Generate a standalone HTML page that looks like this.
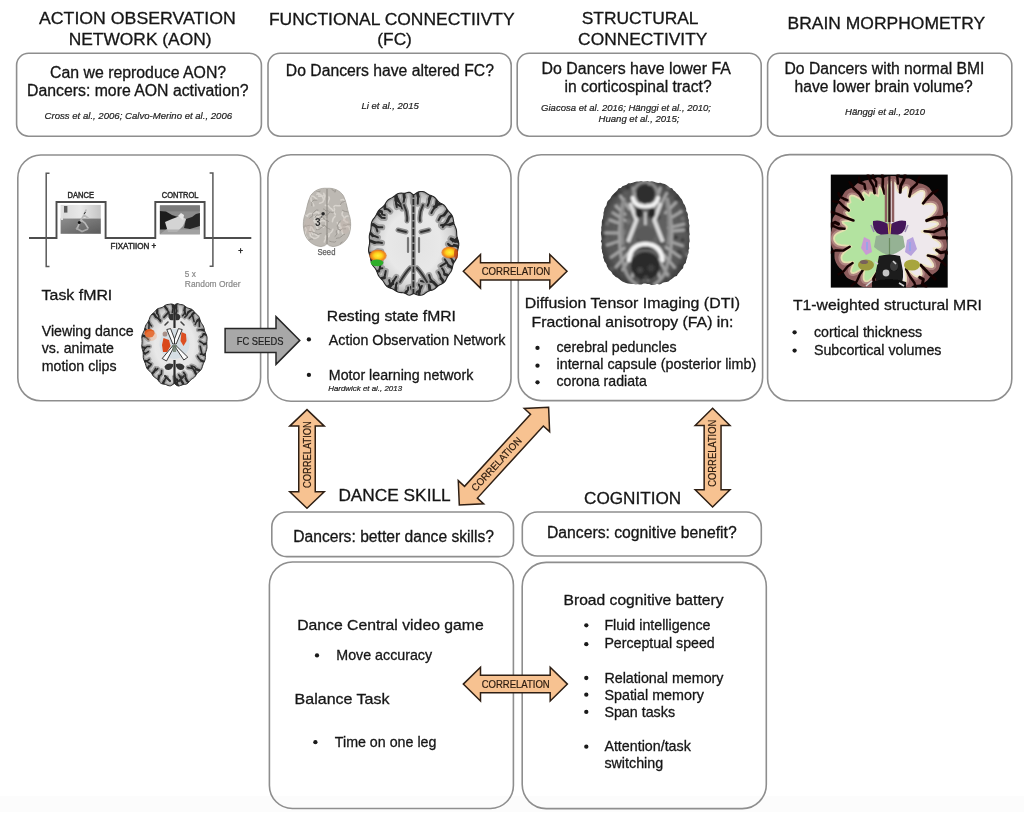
<!DOCTYPE html>
<html><head><meta charset="utf-8"><title>Dance study overview</title>
<style>
html,body{margin:0;padding:0;background:#fff;width:1024px;height:816px;overflow:hidden}
svg{display:block;will-change:transform}
text{font-family:"Liberation Sans",sans-serif}
</style></head><body>
<svg width="1024" height="816" viewBox="0 0 1024 816">
<rect x="0" y="0" width="1024" height="816" fill="#ffffff"/>
<rect x="0" y="796" width="1024" height="16" fill="#fcfcfc"/>
<defs><linearGradient id="gDanceTop" x1="0" y1="0" x2="1" y2="0"><stop offset="0" stop-color="#d8d8d8"/><stop offset="0.5" stop-color="#e8e8e8"/><stop offset="1" stop-color="#c4c4c4"/></linearGradient>
<linearGradient id="gDanceBot" x1="0" y1="0" x2="1" y2="1"><stop offset="0" stop-color="#8e8e8e"/><stop offset="1" stop-color="#5a5a5a"/></linearGradient>
<radialGradient id="gWM" cx="0.5" cy="0.5" r="0.5"><stop offset="0" stop-color="#e2e2e2"/><stop offset="0.6" stop-color="#e8e8e8"/><stop offset="0.85" stop-color="#d4d4d4"/><stop offset="1" stop-color="#b4b4b4"/></radialGradient>
<radialGradient id="gSeed" cx="0.5" cy="0.45" r="0.55"><stop offset="0" stop-color="#c9c6c1"/><stop offset="0.8" stop-color="#bcb8b2"/><stop offset="1" stop-color="#a9a59f"/></radialGradient>
<radialGradient id="gOr" cx="0.5" cy="0.5" r="0.5"><stop offset="0" stop-color="#fff23a"/><stop offset="0.45" stop-color="#ffd21e"/><stop offset="0.8" stop-color="#f08a1a"/><stop offset="1" stop-color="#e06a18" stop-opacity="0.6"/></radialGradient>
<filter id="blur04" x="-5%" y="-5%" width="110%" height="110%"><feGaussianBlur stdDeviation="0.4"/></filter>
<filter id="blur06" x="-5%" y="-5%" width="110%" height="110%"><feGaussianBlur stdDeviation="0.6"/></filter>
<filter id="blur1" x="-5%" y="-5%" width="110%" height="110%"><feGaussianBlur stdDeviation="1"/></filter>
<filter id="blur15" x="-10%" y="-10%" width="120%" height="120%"><feGaussianBlur stdDeviation="1.5"/></filter>
<radialGradient id="gDTI" cx="0.5" cy="0.5" r="0.55"><stop offset="0" stop-color="#686868"/><stop offset="0.75" stop-color="#585858"/><stop offset="1" stop-color="#2e2e2e"/></radialGradient></defs>
<g filter="url(#blur04)">
<rect x="60.6" y="204.9" width="40.2" height="13.8" fill="url(#gDanceTop)"/>
<rect x="60.6" y="218.5" width="40.2" height="15.3" fill="url(#gDanceBot)"/>
<rect x="64.0" y="206.0" width="3.4" height="6.6" fill="#5a5a5a"/>
<rect x="61.0" y="206.0" width="2.0" height="14" fill="#e0e0e0"/>
<path d="M86,210 L84,215 L81,220 L79,224 L77,229 M81,220 L85,223 L88,228 M84,215 L88,218" stroke="#b8b8b8" stroke-width="1.6" fill="none" stroke-linecap="round"/>
<path d="M76,228 L82,231.5 L88,229" stroke="#a8a8a8" stroke-width="1.8" fill="none"/>
<path d="M84,214 L85.5,212" stroke="#333" stroke-width="1"/>
<circle cx="79.3" cy="222.4" r="1.5" fill="#111"/>
<rect x="159.9" y="205.4" width="40.0" height="28.9" fill="#8c8c8c"/>
<rect x="159.9" y="205.4" width="40.0" height="6" fill="#7a7a7a"/>
<path d="M159.9,211 L166,211.5 L172,215 L178,217 L172,221 L168,228 L159.9,234.3 Z" fill="#1e1e1e"/>
<path d="M186,219 L192,217 L196,214 L199.9,213 L199.9,226 L190,229 L184,228 Z" fill="#262626"/>
<path d="M165,222 L172,219 L180,216 L186,219 L183,226 L177,232 L168,232 Z" fill="#d4d4d4"/>
<path d="M178,216 L181,213 L184,215 L183,220 Z" fill="#e6e6e6"/>
<rect x="159.9" y="229.5" width="40" height="4.8" fill="#a8a8a8" opacity="0.8"/>
</g>
<polyline points="29,238 56.5,238 56.5,202 105.6,202 105.6,238 155.3,238 155.3,202 204.6,202 204.6,238 251.3,238" fill="none" stroke="#4d4d4d" stroke-width="1.9" stroke-linejoin="miter"/>
<polyline points="49.5,173.2 46.2,173.2 46.2,266.6 49.5,266.6" fill="none" stroke="#5a5a5a" stroke-width="1.5"/>
<polyline points="209.6,173.0 212.9,173.0 212.9,266.3 209.6,266.3" fill="none" stroke="#5a5a5a" stroke-width="1.5"/>
<g filter="url(#blur04)">
<clipPath id="cpTask"><path d="M206.87,344.80 L206.97,346.43 L206.90,348.05 L206.57,349.64 L206.07,351.18 L205.62,352.69 L205.38,354.25 L205.34,355.89 L205.33,357.57 L205.15,359.21 L204.70,360.75 L204.05,362.17 L203.39,363.57 L202.84,365.04 L202.39,366.59 L201.88,368.13 L201.16,369.51 L200.19,370.64 L199.07,371.57 L197.97,372.49 L197.02,373.55 L196.20,374.77 L195.40,376.04 L194.47,377.16 L193.40,378.04 L192.26,378.77 L191.15,379.54 L190.15,380.53 L189.19,381.70 L188.20,382.84 L187.08,383.71 L185.84,384.20 L184.53,384.42 L183.23,384.60 L181.98,384.94 L180.76,385.43 L179.52,385.87 L178.24,386.03 L176.94,385.49 L175.66,384.48 L174.40,383.58 L173.15,384.26 L171.88,385.18 L170.58,385.81 L169.29,385.83 L168.03,385.51 L166.81,384.99 L165.59,384.51 L164.32,384.20 L163.02,384.01 L161.73,383.69 L160.53,383.03 L159.48,382.00 L158.54,380.79 L157.60,379.64 L156.57,378.71 L155.46,377.93 L154.34,377.13 L153.35,376.12 L152.51,374.89 L151.75,373.59 L150.92,372.39 L149.93,371.36 L148.82,370.43 L147.75,369.40 L146.89,368.16 L146.29,366.69 L145.84,365.12 L145.39,363.58 L144.81,362.13 L144.16,360.72 L143.59,359.24 L143.28,357.65 L143.21,355.98 L143.26,354.30 L143.19,352.69 L142.90,351.14 L142.44,349.61 L142.02,348.04 L141.82,346.43 L141.87,344.80 L142.02,343.18 L142.10,341.57 L142.02,339.93 L141.87,338.25 L141.87,336.58 L142.17,334.97 L142.78,333.47 L143.51,332.05 L144.16,330.63 L144.64,329.14 L145.02,327.59 L145.48,326.07 L146.13,324.68 L146.97,323.44 L147.84,322.24 L148.58,320.96 L149.15,319.50 L149.64,317.93 L150.24,316.42 L151.06,315.14 L152.08,314.12 L153.18,313.23 L154.23,312.29 L155.20,311.21 L156.15,310.09 L157.19,309.11 L158.38,308.46 L159.68,308.10 L160.99,307.83 L162.21,307.40 L163.34,306.71 L164.44,305.86 L165.59,305.10 L166.81,304.63 L168.08,304.42 L169.35,304.29 L170.60,304.00 L171.84,304.03 L173.11,304.45 L174.40,305.11 L175.70,304.23 L176.98,303.72 L178.22,303.78 L179.45,304.25 L180.71,304.50 L181.98,304.67 L183.23,305.01 L184.41,305.65 L185.52,306.51 L186.60,307.37 L187.74,308.01 L188.99,308.41 L190.30,308.72 L191.56,309.22 L192.68,310.03 L193.66,311.11 L194.59,312.26 L195.56,313.31 L196.63,314.24 L197.71,315.18 L198.65,316.32 L199.35,317.72 L199.86,319.29 L200.34,320.85 L200.93,322.27 L201.71,323.53 L202.56,324.76 L203.30,326.08 L203.84,327.55 L204.21,329.11 L204.58,330.65 L205.09,332.13 L205.77,333.56 L206.46,335.02 L206.94,336.57 L207.10,338.22 L206.99,339.90 L206.82,341.56 L206.77,343.18Z"/></clipPath><g clip-path="url(#cpTask)"><path d="M206.87,344.80 L206.97,346.43 L206.90,348.05 L206.57,349.64 L206.07,351.18 L205.62,352.69 L205.38,354.25 L205.34,355.89 L205.33,357.57 L205.15,359.21 L204.70,360.75 L204.05,362.17 L203.39,363.57 L202.84,365.04 L202.39,366.59 L201.88,368.13 L201.16,369.51 L200.19,370.64 L199.07,371.57 L197.97,372.49 L197.02,373.55 L196.20,374.77 L195.40,376.04 L194.47,377.16 L193.40,378.04 L192.26,378.77 L191.15,379.54 L190.15,380.53 L189.19,381.70 L188.20,382.84 L187.08,383.71 L185.84,384.20 L184.53,384.42 L183.23,384.60 L181.98,384.94 L180.76,385.43 L179.52,385.87 L178.24,386.03 L176.94,385.49 L175.66,384.48 L174.40,383.58 L173.15,384.26 L171.88,385.18 L170.58,385.81 L169.29,385.83 L168.03,385.51 L166.81,384.99 L165.59,384.51 L164.32,384.20 L163.02,384.01 L161.73,383.69 L160.53,383.03 L159.48,382.00 L158.54,380.79 L157.60,379.64 L156.57,378.71 L155.46,377.93 L154.34,377.13 L153.35,376.12 L152.51,374.89 L151.75,373.59 L150.92,372.39 L149.93,371.36 L148.82,370.43 L147.75,369.40 L146.89,368.16 L146.29,366.69 L145.84,365.12 L145.39,363.58 L144.81,362.13 L144.16,360.72 L143.59,359.24 L143.28,357.65 L143.21,355.98 L143.26,354.30 L143.19,352.69 L142.90,351.14 L142.44,349.61 L142.02,348.04 L141.82,346.43 L141.87,344.80 L142.02,343.18 L142.10,341.57 L142.02,339.93 L141.87,338.25 L141.87,336.58 L142.17,334.97 L142.78,333.47 L143.51,332.05 L144.16,330.63 L144.64,329.14 L145.02,327.59 L145.48,326.07 L146.13,324.68 L146.97,323.44 L147.84,322.24 L148.58,320.96 L149.15,319.50 L149.64,317.93 L150.24,316.42 L151.06,315.14 L152.08,314.12 L153.18,313.23 L154.23,312.29 L155.20,311.21 L156.15,310.09 L157.19,309.11 L158.38,308.46 L159.68,308.10 L160.99,307.83 L162.21,307.40 L163.34,306.71 L164.44,305.86 L165.59,305.10 L166.81,304.63 L168.08,304.42 L169.35,304.29 L170.60,304.00 L171.84,304.03 L173.11,304.45 L174.40,305.11 L175.70,304.23 L176.98,303.72 L178.22,303.78 L179.45,304.25 L180.71,304.50 L181.98,304.67 L183.23,305.01 L184.41,305.65 L185.52,306.51 L186.60,307.37 L187.74,308.01 L188.99,308.41 L190.30,308.72 L191.56,309.22 L192.68,310.03 L193.66,311.11 L194.59,312.26 L195.56,313.31 L196.63,314.24 L197.71,315.18 L198.65,316.32 L199.35,317.72 L199.86,319.29 L200.34,320.85 L200.93,322.27 L201.71,323.53 L202.56,324.76 L203.30,326.08 L203.84,327.55 L204.21,329.11 L204.58,330.65 L205.09,332.13 L205.77,333.56 L206.46,335.02 L206.94,336.57 L207.10,338.22 L206.99,339.90 L206.82,341.56 L206.77,343.18Z" fill="url(#gWM)"/><path d="M206.87,344.80 L206.97,346.43 L206.90,348.05 L206.57,349.64 L206.07,351.18 L205.62,352.69 L205.38,354.25 L205.34,355.89 L205.33,357.57 L205.15,359.21 L204.70,360.75 L204.05,362.17 L203.39,363.57 L202.84,365.04 L202.39,366.59 L201.88,368.13 L201.16,369.51 L200.19,370.64 L199.07,371.57 L197.97,372.49 L197.02,373.55 L196.20,374.77 L195.40,376.04 L194.47,377.16 L193.40,378.04 L192.26,378.77 L191.15,379.54 L190.15,380.53 L189.19,381.70 L188.20,382.84 L187.08,383.71 L185.84,384.20 L184.53,384.42 L183.23,384.60 L181.98,384.94 L180.76,385.43 L179.52,385.87 L178.24,386.03 L176.94,385.49 L175.66,384.48 L174.40,383.58 L173.15,384.26 L171.88,385.18 L170.58,385.81 L169.29,385.83 L168.03,385.51 L166.81,384.99 L165.59,384.51 L164.32,384.20 L163.02,384.01 L161.73,383.69 L160.53,383.03 L159.48,382.00 L158.54,380.79 L157.60,379.64 L156.57,378.71 L155.46,377.93 L154.34,377.13 L153.35,376.12 L152.51,374.89 L151.75,373.59 L150.92,372.39 L149.93,371.36 L148.82,370.43 L147.75,369.40 L146.89,368.16 L146.29,366.69 L145.84,365.12 L145.39,363.58 L144.81,362.13 L144.16,360.72 L143.59,359.24 L143.28,357.65 L143.21,355.98 L143.26,354.30 L143.19,352.69 L142.90,351.14 L142.44,349.61 L142.02,348.04 L141.82,346.43 L141.87,344.80 L142.02,343.18 L142.10,341.57 L142.02,339.93 L141.87,338.25 L141.87,336.58 L142.17,334.97 L142.78,333.47 L143.51,332.05 L144.16,330.63 L144.64,329.14 L145.02,327.59 L145.48,326.07 L146.13,324.68 L146.97,323.44 L147.84,322.24 L148.58,320.96 L149.15,319.50 L149.64,317.93 L150.24,316.42 L151.06,315.14 L152.08,314.12 L153.18,313.23 L154.23,312.29 L155.20,311.21 L156.15,310.09 L157.19,309.11 L158.38,308.46 L159.68,308.10 L160.99,307.83 L162.21,307.40 L163.34,306.71 L164.44,305.86 L165.59,305.10 L166.81,304.63 L168.08,304.42 L169.35,304.29 L170.60,304.00 L171.84,304.03 L173.11,304.45 L174.40,305.11 L175.70,304.23 L176.98,303.72 L178.22,303.78 L179.45,304.25 L180.71,304.50 L181.98,304.67 L183.23,305.01 L184.41,305.65 L185.52,306.51 L186.60,307.37 L187.74,308.01 L188.99,308.41 L190.30,308.72 L191.56,309.22 L192.68,310.03 L193.66,311.11 L194.59,312.26 L195.56,313.31 L196.63,314.24 L197.71,315.18 L198.65,316.32 L199.35,317.72 L199.86,319.29 L200.34,320.85 L200.93,322.27 L201.71,323.53 L202.56,324.76 L203.30,326.08 L203.84,327.55 L204.21,329.11 L204.58,330.65 L205.09,332.13 L205.77,333.56 L206.46,335.02 L206.94,336.57 L207.10,338.22 L206.99,339.90 L206.82,341.56 L206.77,343.18Z" fill="none" stroke="#a0a0a0" stroke-width="3.0"/><path d="M208.17,343.06 L206.10,343.59 L204.03,344.14" fill="none" stroke="#a0a0a0" stroke-width="4.6" stroke-linecap="round" stroke-linejoin="round"/><path d="M207.28,354.75 L205.62,354.12 L203.69,354.88" fill="none" stroke="#a0a0a0" stroke-width="4.6" stroke-linecap="round" stroke-linejoin="round"/><path d="M205.52,361.55 L203.15,361.39 L201.01,360.53" fill="none" stroke="#a0a0a0" stroke-width="4.6" stroke-linecap="round" stroke-linejoin="round"/><path d="M201.03,371.25 L198.81,370.13 L196.25,369.49" fill="none" stroke="#a0a0a0" stroke-width="4.6" stroke-linecap="round" stroke-linejoin="round"/><path d="M197.91,375.66 L195.84,373.67 L194.49,370.80" fill="none" stroke="#a0a0a0" stroke-width="4.6" stroke-linecap="round" stroke-linejoin="round"/><path d="M189.67,383.12 L187.15,381.10 L185.67,378.43" fill="none" stroke="#a0a0a0" stroke-width="4.6" stroke-linecap="round" stroke-linejoin="round"/><path d="M182.78,386.41 L183.14,383.51 L181.61,381.26" fill="none" stroke="#a0a0a0" stroke-width="4.6" stroke-linecap="round" stroke-linejoin="round"/><path d="M178.94,387.36 L177.86,385.44 L176.55,383.50" fill="none" stroke="#a0a0a0" stroke-width="4.6" stroke-linecap="round" stroke-linejoin="round"/><path d="M173.21,387.73 L174.85,385.55 L176.02,383.30" fill="none" stroke="#a0a0a0" stroke-width="4.6" stroke-linecap="round" stroke-linejoin="round"/><path d="M164.05,385.69 L163.13,382.91 L164.21,381.03" fill="none" stroke="#a0a0a0" stroke-width="4.6" stroke-linecap="round" stroke-linejoin="round"/><path d="M158.22,382.51 L158.39,379.05 L159.20,376.03" fill="none" stroke="#a0a0a0" stroke-width="4.6" stroke-linecap="round" stroke-linejoin="round"/><path d="M151.84,376.79 L152.29,373.52 L153.95,371.70" fill="none" stroke="#a0a0a0" stroke-width="4.6" stroke-linecap="round" stroke-linejoin="round"/><path d="M146.54,369.11 L147.86,368.13 L148.81,366.44" fill="none" stroke="#a0a0a0" stroke-width="4.6" stroke-linecap="round" stroke-linejoin="round"/><path d="M143.98,363.53 L144.74,360.96 L146.46,361.08" fill="none" stroke="#a0a0a0" stroke-width="4.6" stroke-linecap="round" stroke-linejoin="round"/><path d="M141.35,353.83 L142.95,352.26 L145.02,353.61" fill="none" stroke="#a0a0a0" stroke-width="4.6" stroke-linecap="round" stroke-linejoin="round"/><path d="M140.64,346.80 L142.92,347.38 L145.21,347.81" fill="none" stroke="#a0a0a0" stroke-width="4.6" stroke-linecap="round" stroke-linejoin="round"/><path d="M141.21,336.70 L143.27,335.61 L145.04,336.32" fill="none" stroke="#a0a0a0" stroke-width="4.6" stroke-linecap="round" stroke-linejoin="round"/><path d="M143.54,327.27 L145.32,329.67 L147.29,331.57" fill="none" stroke="#a0a0a0" stroke-width="4.6" stroke-linecap="round" stroke-linejoin="round"/><path d="M146.34,320.86 L148.21,321.01 L149.12,322.93" fill="none" stroke="#a0a0a0" stroke-width="4.6" stroke-linecap="round" stroke-linejoin="round"/><path d="M151.44,313.28 L154.30,314.37 L155.79,316.99" fill="none" stroke="#a0a0a0" stroke-width="4.6" stroke-linecap="round" stroke-linejoin="round"/><path d="M157.09,307.90 L157.27,310.44 L157.14,313.28" fill="none" stroke="#a0a0a0" stroke-width="4.6" stroke-linecap="round" stroke-linejoin="round"/><path d="M163.05,304.34 L165.15,306.79 L166.98,309.41" fill="none" stroke="#a0a0a0" stroke-width="4.6" stroke-linecap="round" stroke-linejoin="round"/><path d="M171.15,302.05 L172.74,304.52 L173.18,307.11" fill="none" stroke="#a0a0a0" stroke-width="4.6" stroke-linecap="round" stroke-linejoin="round"/><path d="M177.35,302.01 L176.20,304.90 L176.17,307.89" fill="none" stroke="#a0a0a0" stroke-width="4.6" stroke-linecap="round" stroke-linejoin="round"/><path d="M187.27,305.08 L184.92,307.18 L184.48,310.19" fill="none" stroke="#a0a0a0" stroke-width="4.6" stroke-linecap="round" stroke-linejoin="round"/><path d="M193.05,308.98 L190.50,310.60 L188.12,312.44" fill="none" stroke="#a0a0a0" stroke-width="4.6" stroke-linecap="round" stroke-linejoin="round"/><path d="M196.18,311.96 L193.82,312.84 L192.32,314.60" fill="none" stroke="#a0a0a0" stroke-width="4.6" stroke-linecap="round" stroke-linejoin="round"/><path d="M201.35,318.88 L199.21,319.31 L197.50,320.45" fill="none" stroke="#a0a0a0" stroke-width="4.6" stroke-linecap="round" stroke-linejoin="round"/><path d="M206.19,330.21 L204.39,330.68 L202.14,329.77" fill="none" stroke="#a0a0a0" stroke-width="4.6" stroke-linecap="round" stroke-linejoin="round"/><path d="M207.42,335.65 L205.39,334.25 L203.59,334.16" fill="none" stroke="#a0a0a0" stroke-width="4.6" stroke-linecap="round" stroke-linejoin="round"/><path d="M204.03,344.14 L201.90,342.67 L199.72,341.26" fill="none" stroke="#a0a0a0" stroke-width="4.6" stroke-linecap="round" stroke-linejoin="round"/><path d="M203.69,354.88 L202.04,354.22 L200.27,354.11" fill="none" stroke="#a0a0a0" stroke-width="4.6" stroke-linecap="round" stroke-linejoin="round"/><path d="M202.04,354.22 L200.17,346.22" fill="none" stroke="#a0a0a0" stroke-width="4.6" stroke-linecap="round" stroke-linejoin="round"/><path d="M201.01,360.53 L199.21,358.72 L197.62,356.20" fill="none" stroke="#a0a0a0" stroke-width="4.6" stroke-linecap="round" stroke-linejoin="round"/><path d="M196.25,369.49 L194.73,367.30 L192.52,366.10" fill="none" stroke="#a0a0a0" stroke-width="4.6" stroke-linecap="round" stroke-linejoin="round"/><path d="M198.81,370.13 L196.79,369.37" fill="none" stroke="#a0a0a0" stroke-width="4.6" stroke-linecap="round" stroke-linejoin="round"/><path d="M194.49,370.80 L192.69,368.50 L191.08,365.93" fill="none" stroke="#a0a0a0" stroke-width="4.6" stroke-linecap="round" stroke-linejoin="round"/><path d="M192.69,368.50 L187.83,367.64" fill="none" stroke="#a0a0a0" stroke-width="4.6" stroke-linecap="round" stroke-linejoin="round"/><path d="M185.67,378.43 L185.49,375.02 L183.64,372.56" fill="none" stroke="#a0a0a0" stroke-width="4.6" stroke-linecap="round" stroke-linejoin="round"/><path d="M181.61,381.26 L180.90,378.72 L180.93,375.94" fill="none" stroke="#a0a0a0" stroke-width="4.6" stroke-linecap="round" stroke-linejoin="round"/><path d="M180.90,378.72 L178.83,374.80" fill="none" stroke="#a0a0a0" stroke-width="4.6" stroke-linecap="round" stroke-linejoin="round"/><path d="M176.55,383.50 L177.75,381.28 L177.25,379.26" fill="none" stroke="#a0a0a0" stroke-width="4.6" stroke-linecap="round" stroke-linejoin="round"/><path d="M177.75,381.28 L174.29,376.79" fill="none" stroke="#a0a0a0" stroke-width="4.6" stroke-linecap="round" stroke-linejoin="round"/><path d="M176.02,383.30 L175.82,381.11 L174.53,378.95" fill="none" stroke="#a0a0a0" stroke-width="4.6" stroke-linecap="round" stroke-linejoin="round"/><path d="M164.21,381.03 L165.18,379.09 L166.67,377.35" fill="none" stroke="#a0a0a0" stroke-width="4.6" stroke-linecap="round" stroke-linejoin="round"/><path d="M159.20,376.03 L161.39,374.06 L161.62,370.60" fill="none" stroke="#a0a0a0" stroke-width="4.6" stroke-linecap="round" stroke-linejoin="round"/><path d="M153.95,371.70 L155.95,370.28 L157.79,368.66" fill="none" stroke="#a0a0a0" stroke-width="4.6" stroke-linecap="round" stroke-linejoin="round"/><path d="M153.95,371.70 L155.63,368.41" fill="none" stroke="#a0a0a0" stroke-width="4.6" stroke-linecap="round" stroke-linejoin="round"/><path d="M148.81,366.44 L150.33,365.82 L151.27,364.11" fill="none" stroke="#a0a0a0" stroke-width="4.6" stroke-linecap="round" stroke-linejoin="round"/><path d="M146.46,361.08 L147.90,360.41 L149.19,359.30" fill="none" stroke="#a0a0a0" stroke-width="4.6" stroke-linecap="round" stroke-linejoin="round"/><path d="M146.46,361.08 L150.61,364.21" fill="none" stroke="#a0a0a0" stroke-width="4.6" stroke-linecap="round" stroke-linejoin="round"/><path d="M145.02,353.61 L146.73,352.84 L148.35,351.56" fill="none" stroke="#a0a0a0" stroke-width="4.6" stroke-linecap="round" stroke-linejoin="round"/><path d="M142.95,352.26 L144.61,348.70" fill="none" stroke="#a0a0a0" stroke-width="4.6" stroke-linecap="round" stroke-linejoin="round"/><path d="M145.21,347.81 L147.40,346.44 L149.66,346.49" fill="none" stroke="#a0a0a0" stroke-width="4.6" stroke-linecap="round" stroke-linejoin="round"/><path d="M145.04,336.32 L146.68,337.81 L148.31,339.52" fill="none" stroke="#a0a0a0" stroke-width="4.6" stroke-linecap="round" stroke-linejoin="round"/><path d="M147.29,331.57 L149.82,331.69 L152.15,332.46" fill="none" stroke="#a0a0a0" stroke-width="4.6" stroke-linecap="round" stroke-linejoin="round"/><path d="M149.12,322.93 L150.21,324.55 L151.43,325.92" fill="none" stroke="#a0a0a0" stroke-width="4.6" stroke-linecap="round" stroke-linejoin="round"/><path d="M149.12,322.93 L148.87,328.42" fill="none" stroke="#a0a0a0" stroke-width="4.6" stroke-linecap="round" stroke-linejoin="round"/><path d="M155.79,316.99 L158.35,318.50 L160.71,320.28" fill="none" stroke="#a0a0a0" stroke-width="4.6" stroke-linecap="round" stroke-linejoin="round"/><path d="M158.35,318.50 L160.51,321.41" fill="none" stroke="#a0a0a0" stroke-width="4.6" stroke-linecap="round" stroke-linejoin="round"/><path d="M157.14,313.28 L158.37,314.97 L158.92,317.26" fill="none" stroke="#a0a0a0" stroke-width="4.6" stroke-linecap="round" stroke-linejoin="round"/><path d="M166.98,309.41 L168.64,312.15 L169.37,315.19" fill="none" stroke="#a0a0a0" stroke-width="4.6" stroke-linecap="round" stroke-linejoin="round"/><path d="M168.64,312.15 L163.87,317.36" fill="none" stroke="#a0a0a0" stroke-width="4.6" stroke-linecap="round" stroke-linejoin="round"/><path d="M173.18,307.11 L172.83,309.76 L172.31,312.43" fill="none" stroke="#a0a0a0" stroke-width="4.6" stroke-linecap="round" stroke-linejoin="round"/><path d="M176.17,307.89 L176.87,310.96 L175.85,313.86" fill="none" stroke="#a0a0a0" stroke-width="4.6" stroke-linecap="round" stroke-linejoin="round"/><path d="M184.48,310.19 L184.55,313.47 L182.62,315.77" fill="none" stroke="#a0a0a0" stroke-width="4.6" stroke-linecap="round" stroke-linejoin="round"/><path d="M184.48,310.19 L185.81,314.15" fill="none" stroke="#a0a0a0" stroke-width="4.6" stroke-linecap="round" stroke-linejoin="round"/><path d="M188.12,312.44 L186.92,315.14 L184.77,317.22" fill="none" stroke="#a0a0a0" stroke-width="4.6" stroke-linecap="round" stroke-linejoin="round"/><path d="M192.32,314.60 L190.86,316.42 L189.25,318.11" fill="none" stroke="#a0a0a0" stroke-width="4.6" stroke-linecap="round" stroke-linejoin="round"/><path d="M192.32,314.60 L194.11,321.59" fill="none" stroke="#a0a0a0" stroke-width="4.6" stroke-linecap="round" stroke-linejoin="round"/><path d="M197.50,320.45 L196.22,322.28 L195.21,324.53" fill="none" stroke="#a0a0a0" stroke-width="4.6" stroke-linecap="round" stroke-linejoin="round"/><path d="M199.21,319.31 L199.41,326.52" fill="none" stroke="#a0a0a0" stroke-width="4.6" stroke-linecap="round" stroke-linejoin="round"/><path d="M202.14,329.77 L200.14,329.75 L198.23,330.02" fill="none" stroke="#a0a0a0" stroke-width="4.6" stroke-linecap="round" stroke-linejoin="round"/><path d="M203.59,334.16 L202.28,336.42 L200.64,337.12" fill="none" stroke="#a0a0a0" stroke-width="4.6" stroke-linecap="round" stroke-linejoin="round"/><path d="M208.17,343.06 L206.10,343.59 L204.03,344.14" fill="none" stroke="#2b2b2b" stroke-width="2.3" stroke-linecap="round" stroke-linejoin="round"/><path d="M207.28,354.75 L205.62,354.12 L203.69,354.88" fill="none" stroke="#2b2b2b" stroke-width="2.3" stroke-linecap="round" stroke-linejoin="round"/><path d="M205.52,361.55 L203.15,361.39 L201.01,360.53" fill="none" stroke="#2b2b2b" stroke-width="2.3" stroke-linecap="round" stroke-linejoin="round"/><path d="M201.03,371.25 L198.81,370.13 L196.25,369.49" fill="none" stroke="#2b2b2b" stroke-width="2.3" stroke-linecap="round" stroke-linejoin="round"/><path d="M197.91,375.66 L195.84,373.67 L194.49,370.80" fill="none" stroke="#2b2b2b" stroke-width="2.3" stroke-linecap="round" stroke-linejoin="round"/><path d="M189.67,383.12 L187.15,381.10 L185.67,378.43" fill="none" stroke="#2b2b2b" stroke-width="2.3" stroke-linecap="round" stroke-linejoin="round"/><path d="M182.78,386.41 L183.14,383.51 L181.61,381.26" fill="none" stroke="#2b2b2b" stroke-width="2.3" stroke-linecap="round" stroke-linejoin="round"/><path d="M178.94,387.36 L177.86,385.44 L176.55,383.50" fill="none" stroke="#2b2b2b" stroke-width="2.3" stroke-linecap="round" stroke-linejoin="round"/><path d="M173.21,387.73 L174.85,385.55 L176.02,383.30" fill="none" stroke="#2b2b2b" stroke-width="2.3" stroke-linecap="round" stroke-linejoin="round"/><path d="M164.05,385.69 L163.13,382.91 L164.21,381.03" fill="none" stroke="#2b2b2b" stroke-width="2.3" stroke-linecap="round" stroke-linejoin="round"/><path d="M158.22,382.51 L158.39,379.05 L159.20,376.03" fill="none" stroke="#2b2b2b" stroke-width="2.3" stroke-linecap="round" stroke-linejoin="round"/><path d="M151.84,376.79 L152.29,373.52 L153.95,371.70" fill="none" stroke="#2b2b2b" stroke-width="2.3" stroke-linecap="round" stroke-linejoin="round"/><path d="M146.54,369.11 L147.86,368.13 L148.81,366.44" fill="none" stroke="#2b2b2b" stroke-width="2.3" stroke-linecap="round" stroke-linejoin="round"/><path d="M143.98,363.53 L144.74,360.96 L146.46,361.08" fill="none" stroke="#2b2b2b" stroke-width="2.3" stroke-linecap="round" stroke-linejoin="round"/><path d="M141.35,353.83 L142.95,352.26 L145.02,353.61" fill="none" stroke="#2b2b2b" stroke-width="2.3" stroke-linecap="round" stroke-linejoin="round"/><path d="M140.64,346.80 L142.92,347.38 L145.21,347.81" fill="none" stroke="#2b2b2b" stroke-width="2.3" stroke-linecap="round" stroke-linejoin="round"/><path d="M141.21,336.70 L143.27,335.61 L145.04,336.32" fill="none" stroke="#2b2b2b" stroke-width="2.3" stroke-linecap="round" stroke-linejoin="round"/><path d="M143.54,327.27 L145.32,329.67 L147.29,331.57" fill="none" stroke="#2b2b2b" stroke-width="2.3" stroke-linecap="round" stroke-linejoin="round"/><path d="M146.34,320.86 L148.21,321.01 L149.12,322.93" fill="none" stroke="#2b2b2b" stroke-width="2.3" stroke-linecap="round" stroke-linejoin="round"/><path d="M151.44,313.28 L154.30,314.37 L155.79,316.99" fill="none" stroke="#2b2b2b" stroke-width="2.3" stroke-linecap="round" stroke-linejoin="round"/><path d="M157.09,307.90 L157.27,310.44 L157.14,313.28" fill="none" stroke="#2b2b2b" stroke-width="2.3" stroke-linecap="round" stroke-linejoin="round"/><path d="M163.05,304.34 L165.15,306.79 L166.98,309.41" fill="none" stroke="#2b2b2b" stroke-width="2.3" stroke-linecap="round" stroke-linejoin="round"/><path d="M171.15,302.05 L172.74,304.52 L173.18,307.11" fill="none" stroke="#2b2b2b" stroke-width="2.3" stroke-linecap="round" stroke-linejoin="round"/><path d="M177.35,302.01 L176.20,304.90 L176.17,307.89" fill="none" stroke="#2b2b2b" stroke-width="2.3" stroke-linecap="round" stroke-linejoin="round"/><path d="M187.27,305.08 L184.92,307.18 L184.48,310.19" fill="none" stroke="#2b2b2b" stroke-width="2.3" stroke-linecap="round" stroke-linejoin="round"/><path d="M193.05,308.98 L190.50,310.60 L188.12,312.44" fill="none" stroke="#2b2b2b" stroke-width="2.3" stroke-linecap="round" stroke-linejoin="round"/><path d="M196.18,311.96 L193.82,312.84 L192.32,314.60" fill="none" stroke="#2b2b2b" stroke-width="2.3" stroke-linecap="round" stroke-linejoin="round"/><path d="M201.35,318.88 L199.21,319.31 L197.50,320.45" fill="none" stroke="#2b2b2b" stroke-width="2.3" stroke-linecap="round" stroke-linejoin="round"/><path d="M206.19,330.21 L204.39,330.68 L202.14,329.77" fill="none" stroke="#2b2b2b" stroke-width="2.3" stroke-linecap="round" stroke-linejoin="round"/><path d="M207.42,335.65 L205.39,334.25 L203.59,334.16" fill="none" stroke="#2b2b2b" stroke-width="2.3" stroke-linecap="round" stroke-linejoin="round"/><path d="M204.03,344.14 L201.90,342.67 L199.72,341.26" fill="none" stroke="#2b2b2b" stroke-width="1.6" stroke-linecap="round" stroke-linejoin="round"/><path d="M203.69,354.88 L202.04,354.22 L200.27,354.11" fill="none" stroke="#2b2b2b" stroke-width="1.6" stroke-linecap="round" stroke-linejoin="round"/><path d="M202.04,354.22 L200.17,346.22" fill="none" stroke="#2b2b2b" stroke-width="1.6" stroke-linecap="round" stroke-linejoin="round"/><path d="M201.01,360.53 L199.21,358.72 L197.62,356.20" fill="none" stroke="#2b2b2b" stroke-width="1.6" stroke-linecap="round" stroke-linejoin="round"/><path d="M196.25,369.49 L194.73,367.30 L192.52,366.10" fill="none" stroke="#2b2b2b" stroke-width="1.6" stroke-linecap="round" stroke-linejoin="round"/><path d="M198.81,370.13 L196.79,369.37" fill="none" stroke="#2b2b2b" stroke-width="1.6" stroke-linecap="round" stroke-linejoin="round"/><path d="M194.49,370.80 L192.69,368.50 L191.08,365.93" fill="none" stroke="#2b2b2b" stroke-width="1.6" stroke-linecap="round" stroke-linejoin="round"/><path d="M192.69,368.50 L187.83,367.64" fill="none" stroke="#2b2b2b" stroke-width="1.6" stroke-linecap="round" stroke-linejoin="round"/><path d="M185.67,378.43 L185.49,375.02 L183.64,372.56" fill="none" stroke="#2b2b2b" stroke-width="1.6" stroke-linecap="round" stroke-linejoin="round"/><path d="M181.61,381.26 L180.90,378.72 L180.93,375.94" fill="none" stroke="#2b2b2b" stroke-width="1.6" stroke-linecap="round" stroke-linejoin="round"/><path d="M180.90,378.72 L178.83,374.80" fill="none" stroke="#2b2b2b" stroke-width="1.6" stroke-linecap="round" stroke-linejoin="round"/><path d="M176.55,383.50 L177.75,381.28 L177.25,379.26" fill="none" stroke="#2b2b2b" stroke-width="1.6" stroke-linecap="round" stroke-linejoin="round"/><path d="M177.75,381.28 L174.29,376.79" fill="none" stroke="#2b2b2b" stroke-width="1.6" stroke-linecap="round" stroke-linejoin="round"/><path d="M176.02,383.30 L175.82,381.11 L174.53,378.95" fill="none" stroke="#2b2b2b" stroke-width="1.6" stroke-linecap="round" stroke-linejoin="round"/><path d="M164.21,381.03 L165.18,379.09 L166.67,377.35" fill="none" stroke="#2b2b2b" stroke-width="1.6" stroke-linecap="round" stroke-linejoin="round"/><path d="M159.20,376.03 L161.39,374.06 L161.62,370.60" fill="none" stroke="#2b2b2b" stroke-width="1.6" stroke-linecap="round" stroke-linejoin="round"/><path d="M153.95,371.70 L155.95,370.28 L157.79,368.66" fill="none" stroke="#2b2b2b" stroke-width="1.6" stroke-linecap="round" stroke-linejoin="round"/><path d="M153.95,371.70 L155.63,368.41" fill="none" stroke="#2b2b2b" stroke-width="1.6" stroke-linecap="round" stroke-linejoin="round"/><path d="M148.81,366.44 L150.33,365.82 L151.27,364.11" fill="none" stroke="#2b2b2b" stroke-width="1.6" stroke-linecap="round" stroke-linejoin="round"/><path d="M146.46,361.08 L147.90,360.41 L149.19,359.30" fill="none" stroke="#2b2b2b" stroke-width="1.6" stroke-linecap="round" stroke-linejoin="round"/><path d="M146.46,361.08 L150.61,364.21" fill="none" stroke="#2b2b2b" stroke-width="1.6" stroke-linecap="round" stroke-linejoin="round"/><path d="M145.02,353.61 L146.73,352.84 L148.35,351.56" fill="none" stroke="#2b2b2b" stroke-width="1.6" stroke-linecap="round" stroke-linejoin="round"/><path d="M142.95,352.26 L144.61,348.70" fill="none" stroke="#2b2b2b" stroke-width="1.6" stroke-linecap="round" stroke-linejoin="round"/><path d="M145.21,347.81 L147.40,346.44 L149.66,346.49" fill="none" stroke="#2b2b2b" stroke-width="1.6" stroke-linecap="round" stroke-linejoin="round"/><path d="M145.04,336.32 L146.68,337.81 L148.31,339.52" fill="none" stroke="#2b2b2b" stroke-width="1.6" stroke-linecap="round" stroke-linejoin="round"/><path d="M147.29,331.57 L149.82,331.69 L152.15,332.46" fill="none" stroke="#2b2b2b" stroke-width="1.6" stroke-linecap="round" stroke-linejoin="round"/><path d="M149.12,322.93 L150.21,324.55 L151.43,325.92" fill="none" stroke="#2b2b2b" stroke-width="1.6" stroke-linecap="round" stroke-linejoin="round"/><path d="M149.12,322.93 L148.87,328.42" fill="none" stroke="#2b2b2b" stroke-width="1.6" stroke-linecap="round" stroke-linejoin="round"/><path d="M155.79,316.99 L158.35,318.50 L160.71,320.28" fill="none" stroke="#2b2b2b" stroke-width="1.6" stroke-linecap="round" stroke-linejoin="round"/><path d="M158.35,318.50 L160.51,321.41" fill="none" stroke="#2b2b2b" stroke-width="1.6" stroke-linecap="round" stroke-linejoin="round"/><path d="M157.14,313.28 L158.37,314.97 L158.92,317.26" fill="none" stroke="#2b2b2b" stroke-width="1.6" stroke-linecap="round" stroke-linejoin="round"/><path d="M166.98,309.41 L168.64,312.15 L169.37,315.19" fill="none" stroke="#2b2b2b" stroke-width="1.6" stroke-linecap="round" stroke-linejoin="round"/><path d="M168.64,312.15 L163.87,317.36" fill="none" stroke="#2b2b2b" stroke-width="1.6" stroke-linecap="round" stroke-linejoin="round"/><path d="M173.18,307.11 L172.83,309.76 L172.31,312.43" fill="none" stroke="#2b2b2b" stroke-width="1.6" stroke-linecap="round" stroke-linejoin="round"/><path d="M176.17,307.89 L176.87,310.96 L175.85,313.86" fill="none" stroke="#2b2b2b" stroke-width="1.6" stroke-linecap="round" stroke-linejoin="round"/><path d="M184.48,310.19 L184.55,313.47 L182.62,315.77" fill="none" stroke="#2b2b2b" stroke-width="1.6" stroke-linecap="round" stroke-linejoin="round"/><path d="M184.48,310.19 L185.81,314.15" fill="none" stroke="#2b2b2b" stroke-width="1.6" stroke-linecap="round" stroke-linejoin="round"/><path d="M188.12,312.44 L186.92,315.14 L184.77,317.22" fill="none" stroke="#2b2b2b" stroke-width="1.6" stroke-linecap="round" stroke-linejoin="round"/><path d="M192.32,314.60 L190.86,316.42 L189.25,318.11" fill="none" stroke="#2b2b2b" stroke-width="1.6" stroke-linecap="round" stroke-linejoin="round"/><path d="M192.32,314.60 L194.11,321.59" fill="none" stroke="#2b2b2b" stroke-width="1.6" stroke-linecap="round" stroke-linejoin="round"/><path d="M197.50,320.45 L196.22,322.28 L195.21,324.53" fill="none" stroke="#2b2b2b" stroke-width="1.6" stroke-linecap="round" stroke-linejoin="round"/><path d="M199.21,319.31 L199.41,326.52" fill="none" stroke="#2b2b2b" stroke-width="1.6" stroke-linecap="round" stroke-linejoin="round"/><path d="M202.14,329.77 L200.14,329.75 L198.23,330.02" fill="none" stroke="#2b2b2b" stroke-width="1.6" stroke-linecap="round" stroke-linejoin="round"/><path d="M203.59,334.16 L202.28,336.42 L200.64,337.12" fill="none" stroke="#2b2b2b" stroke-width="1.6" stroke-linecap="round" stroke-linejoin="round"/>
<ellipse cx="174.5" cy="344" rx="15" ry="15" fill="#c6d8e4" opacity="0.5"/>
<path d="M174.5,305 L174.5,328" stroke="#2a2a2a" stroke-width="2.2"/>
<path d="M173.5,314 Q169,313 168.5,317.5 Q169.5,321 173.5,320 Z M175.5,314 Q180,313 180.5,317.5 Q179.5,321 175.5,320 Z" fill="#333"/>
<path d="M168,322 l-3,3 M181,322 l3,3" stroke="#444" stroke-width="1.6" stroke-linecap="round"/>
<path d="M174.5,360 L174.5,386" stroke="#2a2a2a" stroke-width="2.2"/>
<path d="M173,364 Q167,362 164.5,366.5 Q165,370.5 169,370 Q172,369 173,366.5 Z M176,364 Q182,362 184.5,366.5 Q184,370.5 180,370 Q177,369 176,366.5 Z" fill="#353535"/>
<path d="M165,376 l5,5 M184,376 l-5,5" stroke="#333" stroke-width="2.2" stroke-linecap="round"/>
<path d="M166.8,329.5 L170.6,328.6 L174.5,339 L174.5,344 L172.8,344 Z" fill="#fbfbfb" stroke="#262626" stroke-width="0.9" stroke-linejoin="round"/>
<path d="M182.2,329.5 L178.4,328.6 L174.5,339 L174.5,344 L176.2,344 Z" fill="#fbfbfb" stroke="#262626" stroke-width="0.9" stroke-linejoin="round"/>
<path d="M172.6,346 L174.5,346 L166.5,361 L162.2,358.5 Z" fill="#fbfbfb" stroke="#262626" stroke-width="0.9" stroke-linejoin="round"/>
<path d="M176.4,346 L174.5,346 L183.8,360 L187.8,357.2 Z" fill="#fbfbfb" stroke="#262626" stroke-width="0.9" stroke-linejoin="round"/>
<path d="M172,345 L177,345 L176,352 L173,352 Z" fill="#6a7a6a" opacity="0.8"/>
<ellipse cx="149.5" cy="333.3" rx="5" ry="4.2" fill="#e05a1e"/>
<ellipse cx="151" cy="336" rx="6" ry="5" fill="#f0a070" opacity="0.35"/>
<path d="M163.5,338 L169,340 L170.5,346 L167,352 L163,352 L162,345 Z" fill="#d9481c"/>
<path d="M181.5,332 L186,334 L186.5,341 L183.5,346 L180.5,341 Z" fill="#dc4f20"/>
<ellipse cx="165" cy="334" rx="2.4" ry="2.6" fill="#9a7a70" opacity="0.8"/>
</g>
<path d="M206.87,344.80 L206.97,346.43 L206.90,348.05 L206.57,349.64 L206.07,351.18 L205.62,352.69 L205.38,354.25 L205.34,355.89 L205.33,357.57 L205.15,359.21 L204.70,360.75 L204.05,362.17 L203.39,363.57 L202.84,365.04 L202.39,366.59 L201.88,368.13 L201.16,369.51 L200.19,370.64 L199.07,371.57 L197.97,372.49 L197.02,373.55 L196.20,374.77 L195.40,376.04 L194.47,377.16 L193.40,378.04 L192.26,378.77 L191.15,379.54 L190.15,380.53 L189.19,381.70 L188.20,382.84 L187.08,383.71 L185.84,384.20 L184.53,384.42 L183.23,384.60 L181.98,384.94 L180.76,385.43 L179.52,385.87 L178.24,386.03 L176.94,385.49 L175.66,384.48 L174.40,383.58 L173.15,384.26 L171.88,385.18 L170.58,385.81 L169.29,385.83 L168.03,385.51 L166.81,384.99 L165.59,384.51 L164.32,384.20 L163.02,384.01 L161.73,383.69 L160.53,383.03 L159.48,382.00 L158.54,380.79 L157.60,379.64 L156.57,378.71 L155.46,377.93 L154.34,377.13 L153.35,376.12 L152.51,374.89 L151.75,373.59 L150.92,372.39 L149.93,371.36 L148.82,370.43 L147.75,369.40 L146.89,368.16 L146.29,366.69 L145.84,365.12 L145.39,363.58 L144.81,362.13 L144.16,360.72 L143.59,359.24 L143.28,357.65 L143.21,355.98 L143.26,354.30 L143.19,352.69 L142.90,351.14 L142.44,349.61 L142.02,348.04 L141.82,346.43 L141.87,344.80 L142.02,343.18 L142.10,341.57 L142.02,339.93 L141.87,338.25 L141.87,336.58 L142.17,334.97 L142.78,333.47 L143.51,332.05 L144.16,330.63 L144.64,329.14 L145.02,327.59 L145.48,326.07 L146.13,324.68 L146.97,323.44 L147.84,322.24 L148.58,320.96 L149.15,319.50 L149.64,317.93 L150.24,316.42 L151.06,315.14 L152.08,314.12 L153.18,313.23 L154.23,312.29 L155.20,311.21 L156.15,310.09 L157.19,309.11 L158.38,308.46 L159.68,308.10 L160.99,307.83 L162.21,307.40 L163.34,306.71 L164.44,305.86 L165.59,305.10 L166.81,304.63 L168.08,304.42 L169.35,304.29 L170.60,304.00 L171.84,304.03 L173.11,304.45 L174.40,305.11 L175.70,304.23 L176.98,303.72 L178.22,303.78 L179.45,304.25 L180.71,304.50 L181.98,304.67 L183.23,305.01 L184.41,305.65 L185.52,306.51 L186.60,307.37 L187.74,308.01 L188.99,308.41 L190.30,308.72 L191.56,309.22 L192.68,310.03 L193.66,311.11 L194.59,312.26 L195.56,313.31 L196.63,314.24 L197.71,315.18 L198.65,316.32 L199.35,317.72 L199.86,319.29 L200.34,320.85 L200.93,322.27 L201.71,323.53 L202.56,324.76 L203.30,326.08 L203.84,327.55 L204.21,329.11 L204.58,330.65 L205.09,332.13 L205.77,333.56 L206.46,335.02 L206.94,336.57 L207.10,338.22 L206.99,339.90 L206.82,341.56 L206.77,343.18Z" fill="none" stroke="#2a2a2a" stroke-width="1.0"/>
</g>
<clipPath id="cpSeed"><path d="M327,188.3 C333,187.8 340,190 343.5,196 C346.5,202 347,208 348.8,214 C351.2,220 351.2,228 349.2,234 C347,241 340,246.2 333,246.6 Q329,246.2 327,243.8 Q325,246.2 321,246.6 C314,246.2 307,241 304.8,234 C302.8,228 302.8,220 305.2,214 C307,208 307.5,202 310.5,196 C314,190 321,187.8 327,188.3 Z"/></clipPath>
<g filter="url(#blur04)">
<path d="M327,188.3 C333,187.8 340,190 343.5,196 C346.5,202 347,208 348.8,214 C351.2,220 351.2,228 349.2,234 C347,241 340,246.2 333,246.6 Q329,246.2 327,243.8 Q325,246.2 321,246.6 C314,246.2 307,241 304.8,234 C302.8,228 302.8,220 305.2,214 C307,208 307.5,202 310.5,196 C314,190 321,187.8 327,188.3 Z" fill="#bdb9b3"/>
<g clip-path="url(#cpSeed)">
<path d="M328.0,233.6 Q327.4,235.1 325.8,236.0 Q324.7,237.3 325.8,239.1 Q324.4,240.6 324.3,242.0" fill="none" stroke="#d8d4ce" stroke-width="1.6" stroke-linecap="round" stroke-linejoin="round"/>
<path d="M319.0,235.7 Q316.4,236.0 315.9,234.8 Q314.1,234.0 314.0,232.2 Q314.4,230.1 312.5,229.4 Q312.7,228.3 311.1,226.5" fill="none" stroke="#d8d4ce" stroke-width="1.6" stroke-linecap="round" stroke-linejoin="round"/>
<path d="M318.6,194.4 Q318.3,192.8 317.0,191.6 Q315.9,190.1 315.5,188.8 Q315.9,187.9 314.4,185.8" fill="none" stroke="#d8d4ce" stroke-width="1.6" stroke-linecap="round" stroke-linejoin="round"/>
<path d="M307.2,215.8 Q307.8,214.8 309.5,213.6 Q311.2,213.3 312.7,213.8 Q314.9,212.5 315.7,212.7 Q317.5,212.6 318.9,212.2" fill="none" stroke="#d8d4ce" stroke-width="1.6" stroke-linecap="round" stroke-linejoin="round"/>
<path d="M310.7,225.6 Q311.5,227.3 310.3,228.7 Q309.5,230.9 311.2,231.8 Q311.9,232.6 312.8,234.5" fill="none" stroke="#d8d4ce" stroke-width="1.6" stroke-linecap="round" stroke-linejoin="round"/>
<path d="M332.9,229.4 Q332.6,230.7 331.3,232.2 Q330.3,232.5 329.2,234.6 Q329.3,237.0 327.2,237.1" fill="none" stroke="#d8d4ce" stroke-width="1.6" stroke-linecap="round" stroke-linejoin="round"/>
<path d="M340.9,199.9 Q343.5,198.9 344.1,200.1 Q344.6,202.3 346.0,202.7 Q346.9,202.8 348.7,204.5" fill="none" stroke="#d8d4ce" stroke-width="1.6" stroke-linecap="round" stroke-linejoin="round"/>
<path d="M323.4,227.3 Q324.4,225.2 325.8,225.2 Q326.3,223.0 326.1,222.0 Q325.8,219.6 326.6,218.9" fill="none" stroke="#d8d4ce" stroke-width="1.6" stroke-linecap="round" stroke-linejoin="round"/>
<path d="M318.0,229.1 Q316.6,227.5 316.6,226.3 Q315.3,224.6 315.9,223.1 Q314.8,222.7 313.8,220.7" fill="none" stroke="#d8d4ce" stroke-width="1.6" stroke-linecap="round" stroke-linejoin="round"/>
<path d="M347.7,222.3 Q345.2,222.3 344.9,220.7 Q343.8,220.2 344.2,217.6 Q342.8,215.5 342.2,215.1 Q341.7,213.4 342.7,211.9" fill="none" stroke="#d8d4ce" stroke-width="1.6" stroke-linecap="round" stroke-linejoin="round"/>
<path d="M324.8,195.0 Q323.5,196.2 321.8,196.3 Q320.1,196.1 318.6,196.1" fill="none" stroke="#d8d4ce" stroke-width="1.6" stroke-linecap="round" stroke-linejoin="round"/>
<path d="M327.2,219.0 Q325.2,218.8 324.7,220.9 Q322.7,220.4 321.5,220.8 Q319.3,222.3 319.1,222.9" fill="none" stroke="#d8d4ce" stroke-width="1.6" stroke-linecap="round" stroke-linejoin="round"/>
<path d="M305.7,196.1 Q308.3,194.5 308.6,194.9 Q310.9,194.3 311.6,196.0 Q313.7,195.9 314.6,197.3 Q316.7,199.0 317.1,199.3" fill="none" stroke="#d8d4ce" stroke-width="1.6" stroke-linecap="round" stroke-linejoin="round"/>
<path d="M323.8,193.2 Q323.8,194.3 324.9,196.2 Q324.4,198.8 323.5,199.0 Q324.0,200.6 322.6,202.1 Q320.1,203.3 319.6,203.3" fill="none" stroke="#d8d4ce" stroke-width="1.6" stroke-linecap="round" stroke-linejoin="round"/>
<path d="M339.9,223.8 Q339.4,226.2 340.6,227.0 Q340.6,228.2 339.0,229.7 Q337.8,231.1 338.6,232.9" fill="none" stroke="#d8d4ce" stroke-width="1.6" stroke-linecap="round" stroke-linejoin="round"/>
<path d="M335.1,216.1 Q334.9,216.5 333.2,218.6 Q332.6,220.2 332.4,221.7" fill="none" stroke="#d8d4ce" stroke-width="1.6" stroke-linecap="round" stroke-linejoin="round"/>
<path d="M322.1,218.3 Q320.8,218.7 319.1,217.1 Q318.5,216.0 316.1,215.9" fill="none" stroke="#d8d4ce" stroke-width="1.6" stroke-linecap="round" stroke-linejoin="round"/>
<path d="M346.1,193.6 Q346.9,195.0 346.5,196.7 Q347.8,198.8 347.9,199.6" fill="none" stroke="#d8d4ce" stroke-width="1.6" stroke-linecap="round" stroke-linejoin="round"/>
<path d="M340.2,205.6 Q338.3,205.9 337.0,205.7 Q334.4,205.2 333.9,206.7" fill="none" stroke="#d8d4ce" stroke-width="1.6" stroke-linecap="round" stroke-linejoin="round"/>
<path d="M327.7,203.2 Q327.9,202.3 328.8,200.2 Q330.0,199.2 329.0,197.0" fill="none" stroke="#d8d4ce" stroke-width="1.6" stroke-linecap="round" stroke-linejoin="round"/>
<path d="M318.6,236.6 Q316.3,238.2 315.8,238.3 Q314.6,238.7 312.7,237.8 Q310.8,236.2 310.2,235.9 Q310.6,234.1 309.4,232.7" fill="none" stroke="#d8d4ce" stroke-width="1.6" stroke-linecap="round" stroke-linejoin="round"/>
<path d="M316.9,194.3 Q319.4,193.2 320.1,194.5 Q321.4,195.3 322.4,196.7 Q323.0,198.3 324.1,199.4" fill="none" stroke="#d8d4ce" stroke-width="1.6" stroke-linecap="round" stroke-linejoin="round"/>
<path d="M335.3,214.3 Q333.9,212.5 333.8,211.5 Q335.1,209.2 334.3,208.3" fill="none" stroke="#d8d4ce" stroke-width="1.6" stroke-linecap="round" stroke-linejoin="round"/>
<path d="M332.9,210.5 Q331.7,208.5 330.5,208.4 Q330.1,207.9 328.5,205.9 Q326.3,205.5 325.3,205.4" fill="none" stroke="#d8d4ce" stroke-width="1.6" stroke-linecap="round" stroke-linejoin="round"/>
<path d="M322.3,227.0 Q321.4,225.6 319.6,225.3 Q320.3,224.6 318.9,222.2 Q318.5,220.4 318.2,219.1" fill="none" stroke="#d8d4ce" stroke-width="1.6" stroke-linecap="round" stroke-linejoin="round"/>
<path d="M348.0,216.0 Q345.7,215.9 345.1,217.4 Q345.2,218.3 343.6,220.2" fill="none" stroke="#d8d4ce" stroke-width="1.6" stroke-linecap="round" stroke-linejoin="round"/>
<path d="M307.4,238.5 Q306.8,237.3 305.6,235.9 Q304.4,234.7 305.5,232.7 Q305.5,231.5 306.5,229.7 Q304.8,227.7 305.2,226.8" fill="none" stroke="#d8d4ce" stroke-width="1.6" stroke-linecap="round" stroke-linejoin="round"/>
<path d="M320.5,216.0 Q319.3,214.6 318.7,213.4 Q318.0,212.4 316.2,211.4" fill="none" stroke="#d8d4ce" stroke-width="1.6" stroke-linecap="round" stroke-linejoin="round"/>
<path d="M348.1,190.4 Q347.4,190.2 345.2,191.8 Q342.6,192.8 342.1,192.8" fill="none" stroke="#d8d4ce" stroke-width="1.6" stroke-linecap="round" stroke-linejoin="round"/>
<path d="M346.3,226.5 Q348.5,226.0 349.3,227.6 Q349.5,230.2 350.9,230.4 Q351.4,230.9 353.9,231.5" fill="none" stroke="#d8d4ce" stroke-width="1.6" stroke-linecap="round" stroke-linejoin="round"/>
<path d="M318.6,224.8 Q317.3,223.4 316.3,222.6 Q314.5,220.8 314.6,219.9 Q314.9,219.3 314.2,216.7" fill="none" stroke="#d8d4ce" stroke-width="1.6" stroke-linecap="round" stroke-linejoin="round"/>
<path d="M307.5,216.3 Q307.2,216.0 304.8,214.6 Q304.0,214.2 302.4,212.5 Q300.4,211.5 299.2,212.7 Q299.0,213.9 296.7,214.7" fill="none" stroke="#d8d4ce" stroke-width="1.6" stroke-linecap="round" stroke-linejoin="round"/>
<path d="M313.8,205.9 Q313.8,205.2 312.5,203.0 Q311.6,202.3 311.1,200.1 Q311.1,198.7 310.7,197.0" fill="none" stroke="#d8d4ce" stroke-width="1.6" stroke-linecap="round" stroke-linejoin="round"/>
<path d="M337.3,222.5 Q337.4,223.5 338.8,225.4 Q341.0,226.8 341.1,227.6 Q342.1,229.1 341.8,230.7 Q342.0,232.1 342.8,233.7" fill="none" stroke="#d8d4ce" stroke-width="1.6" stroke-linecap="round" stroke-linejoin="round"/>
<path d="M307.3,241.9 Q307.9,241.3 309.6,239.6 Q310.9,238.3 312.7,239.1" fill="none" stroke="#9d9993" stroke-width="1.0" stroke-linecap="round" stroke-linejoin="round"/>
<path d="M329.6,241.2 Q331.8,242.0 332.7,241.9 Q335.0,242.7 335.9,241.6" fill="none" stroke="#9d9993" stroke-width="1.0" stroke-linecap="round" stroke-linejoin="round"/>
<path d="M348.3,209.4 Q348.4,208.0 347.1,206.4 Q346.7,203.8 348.2,203.4 Q347.8,202.4 347.3,200.3 Q346.9,197.7 348.8,197.5" fill="none" stroke="#9d9993" stroke-width="1.0" stroke-linecap="round" stroke-linejoin="round"/>
<path d="M321.8,225.5 Q322.6,224.4 325.0,225.7 Q326.0,226.1 327.1,228.1 Q328.4,228.4 330.1,229.3" fill="none" stroke="#9d9993" stroke-width="1.0" stroke-linecap="round" stroke-linejoin="round"/>
<path d="M336.3,238.4 Q337.9,237.7 339.4,237.9 Q341.3,236.4 342.1,236.1 Q343.4,234.0 344.6,234.2" fill="none" stroke="#9d9993" stroke-width="1.0" stroke-linecap="round" stroke-linejoin="round"/>
<path d="M340.4,204.5 Q340.5,203.0 342.6,202.1 Q343.3,202.1 345.5,200.8" fill="none" stroke="#9d9993" stroke-width="1.0" stroke-linecap="round" stroke-linejoin="round"/>
<path d="M315.0,217.3 Q316.3,215.0 317.1,215.0 Q317.6,215.5 320.3,214.7" fill="none" stroke="#9d9993" stroke-width="1.0" stroke-linecap="round" stroke-linejoin="round"/>
<path d="M333.8,212.2 Q333.1,213.3 330.6,212.0 Q328.4,212.3 328.3,214.3 Q327.5,215.1 325.3,215.3" fill="none" stroke="#9d9993" stroke-width="1.0" stroke-linecap="round" stroke-linejoin="round"/>
<path d="M311.8,205.5 Q312.3,203.5 311.6,202.3 Q312.7,201.3 313.9,200.0 Q315.0,200.6 317.1,200.1" fill="none" stroke="#9d9993" stroke-width="1.0" stroke-linecap="round" stroke-linejoin="round"/>
<path d="M348.5,212.4 Q347.9,211.5 345.4,211.5 Q344.3,211.4 342.5,210.3" fill="none" stroke="#9d9993" stroke-width="1.0" stroke-linecap="round" stroke-linejoin="round"/>
<path d="M339.6,230.4 Q339.8,230.7 342.4,228.8 Q343.0,229.0 345.6,228.8" fill="none" stroke="#9d9993" stroke-width="1.0" stroke-linecap="round" stroke-linejoin="round"/>
<path d="M327.0,239.7 Q327.2,238.3 327.5,236.5 Q326.4,234.8 327.0,233.4" fill="none" stroke="#9d9993" stroke-width="1.0" stroke-linecap="round" stroke-linejoin="round"/>
<path d="M342.2,241.9 Q340.2,242.6 340.4,244.5 Q340.1,246.4 338.3,246.9 Q336.8,247.3 335.7,248.8 Q334.4,249.4 334.0,251.5" fill="none" stroke="#9d9993" stroke-width="1.0" stroke-linecap="round" stroke-linejoin="round"/>
<path d="M324.8,225.5 Q324.2,225.7 322.1,227.2 Q321.5,227.0 319.5,229.1 Q317.7,229.8 316.4,229.7" fill="none" stroke="#9d9993" stroke-width="1.0" stroke-linecap="round" stroke-linejoin="round"/>
<path d="M305.4,225.1 Q305.0,226.5 303.1,227.3 Q301.5,227.9 299.9,227.5" fill="none" stroke="#9d9993" stroke-width="1.0" stroke-linecap="round" stroke-linejoin="round"/>
<path d="M335.6,191.7 Q334.9,190.8 332.7,190.4 Q331.8,189.7 331.6,187.4" fill="none" stroke="#9d9993" stroke-width="1.0" stroke-linecap="round" stroke-linejoin="round"/>
<path d="M340.8,230.7 Q340.4,229.4 338.0,229.2 Q338.2,226.5 337.0,226.1 Q338.5,223.6 338.5,223.3 Q338.8,222.8 340.5,220.8" fill="none" stroke="#9d9993" stroke-width="1.0" stroke-linecap="round" stroke-linejoin="round"/>
<path d="M334.7,192.0 Q335.8,189.5 336.4,189.3 Q337.4,187.1 337.1,186.2 Q338.0,184.6 339.0,183.6" fill="none" stroke="#9d9993" stroke-width="1.0" stroke-linecap="round" stroke-linejoin="round"/>
<path d="M309.2,231.5 Q311.8,231.2 312.4,231.9 Q314.0,232.6 315.4,233.1 Q316.1,232.9 318.2,234.5 Q320.2,233.1 321.2,233.3" fill="none" stroke="#9d9993" stroke-width="1.0" stroke-linecap="round" stroke-linejoin="round"/>
<path d="M343.0,225.0 Q343.5,224.5 346.2,225.3 Q347.8,224.2 349.2,224.2 Q349.6,224.7 352.1,225.5" fill="none" stroke="#9d9993" stroke-width="1.0" stroke-linecap="round" stroke-linejoin="round"/>
<path d="M328.7,221.5 Q327.9,220.8 325.8,220.1 Q323.5,218.8 323.5,217.9 Q323.0,216.4 320.4,217.1 Q318.7,218.8 317.8,219.0" fill="none" stroke="#9d9993" stroke-width="1.0" stroke-linecap="round" stroke-linejoin="round"/>
<path d="M313.5,226.8 Q312.6,225.3 310.5,225.6 Q309.8,225.0 307.3,225.7 Q305.0,226.5 304.5,227.1 Q302.1,226.6 301.4,226.1" fill="none" stroke="#9d9993" stroke-width="1.0" stroke-linecap="round" stroke-linejoin="round"/>
<path d="M344.3,194.7 Q345.6,193.9 347.3,193.5 Q348.9,195.1 350.2,194.8 Q350.7,195.4 352.5,197.0" fill="none" stroke="#9d9993" stroke-width="1.0" stroke-linecap="round" stroke-linejoin="round"/>
<path d="M347.0,243.0 Q347.8,244.1 348.0,246.0 Q348.0,246.8 350.2,248.3 Q351.1,250.8 351.0,251.4" fill="none" stroke="#9d9993" stroke-width="1.0" stroke-linecap="round" stroke-linejoin="round"/>
<path d="M318.0,210.0 Q315.7,209.5 315.0,211.2 Q314.0,212.0 312.7,213.5 Q312.6,216.2 312.2,216.6 Q310.3,216.8 309.5,218.4" fill="none" stroke="#9d9993" stroke-width="1.0" stroke-linecap="round" stroke-linejoin="round"/>
<path d="M335.0,236.4 Q336.5,235.5 336.9,233.8 Q335.7,232.3 336.3,230.7" fill="none" stroke="#9d9993" stroke-width="1.0" stroke-linecap="round" stroke-linejoin="round"/>
<path d="M320.2,191.2 Q318.8,191.8 317.1,191.7 Q316.3,190.4 314.4,189.9" fill="none" stroke="#9d9993" stroke-width="1.0" stroke-linecap="round" stroke-linejoin="round"/>
<path d="M323.5,208.9 Q324.7,208.8 325.9,211.0 Q327.3,210.1 329.1,211.3" fill="none" stroke="#9d9993" stroke-width="1.0" stroke-linecap="round" stroke-linejoin="round"/>
<path d="M307.6,193.6 Q308.8,192.6 309.5,191.0 Q309.7,188.5 310.9,188.1 Q311.4,185.8 311.8,185.1 Q314.2,183.9 314.6,183.6" fill="none" stroke="#9d9993" stroke-width="1.0" stroke-linecap="round" stroke-linejoin="round"/>
<path d="M310.9,194.3 Q309.7,195.6 308.6,196.5 Q307.5,196.9 308.6,199.7 Q309.2,201.4 307.9,202.8 Q306.9,203.6 306.7,205.8" fill="none" stroke="#9d9993" stroke-width="1.0" stroke-linecap="round" stroke-linejoin="round"/>
<ellipse cx="309" cy="226" rx="5" ry="8" fill="#c8b8b0" opacity="0.35"/><ellipse cx="345" cy="226" rx="5" ry="8" fill="#c8b8b0" opacity="0.35"/>
</g>
<path d="M327,188.3 C333,187.8 340,190 343.5,196 C346.5,202 347,208 348.8,214 C351.2,220 351.2,228 349.2,234 C347,241 340,246.2 333,246.6 Q329,246.2 327,243.8 Q325,246.2 321,246.6 C314,246.2 307,241 304.8,234 C302.8,228 302.8,220 305.2,214 C307,208 307.5,202 310.5,196 C314,190 321,187.8 327,188.3 Z" fill="none" stroke="#a6a29c" stroke-width="0.8"/>
<path d="M327,189 L327,244" stroke="#8e8a84" stroke-width="1.1"/>
</g>
<circle cx="323.1" cy="213.7" r="1.75" fill="#262626"/>
<path d="M322.3,215.5 L320.4,218.6" stroke="#444" stroke-width="0.7"/>
<text x="315.0" y="226.2" font-size="10" font-weight="bold" fill="#2e2e2e" font-family="Liberation Sans">3</text>
<text x="317.5" y="255.4" font-size="8.3" fill="#5e5e5e" stroke="#5e5e5e" stroke-width="0.25" textLength="17.9" lengthAdjust="spacingAndGlyphs" font-family="Liberation Sans">Seed</text>
<g filter="url(#blur04)">
<clipPath id="cpFC"><path d="M458.78,243.30 L458.74,245.37 L458.35,247.42 L457.85,249.42 L457.50,251.43 L457.33,253.47 L457.15,255.52 L456.71,257.51 L455.90,259.37 L454.84,261.09 L453.82,262.78 L453.06,264.57 L452.57,266.52 L452.14,268.55 L451.53,270.49 L450.60,272.23 L449.46,273.79 L448.31,275.32 L447.31,277.00 L446.43,278.83 L445.50,280.65 L444.31,282.22 L442.82,283.39 L441.14,284.24 L439.46,285.04 L437.93,286.01 L436.53,287.22 L435.13,288.46 L433.62,289.47 L431.96,290.14 L430.23,290.59 L428.56,291.11 L426.98,291.94 L425.46,293.06 L423.90,294.19 L422.24,294.99 L420.48,295.31 L418.69,295.28 L416.91,294.75 L415.16,294.05 L413.40,293.53 L411.63,294.54 L409.86,295.18 L408.14,294.98 L406.49,294.07 L404.86,293.26 L403.19,292.78 L401.45,292.61 L399.67,292.46 L397.95,292.03 L396.34,291.23 L394.82,290.21 L393.28,289.25 L391.63,288.53 L389.88,287.96 L388.16,287.26 L386.62,286.19 L385.36,284.68 L384.30,282.94 L383.26,281.24 L382.08,279.75 L380.77,278.40 L379.48,277.02 L378.40,275.41 L377.59,273.58 L376.91,271.67 L376.13,269.87 L375.09,268.27 L373.83,266.76 L372.60,265.19 L371.65,263.42 L371.08,261.47 L370.74,259.43 L370.37,257.42 L369.83,255.47 L369.18,253.54 L368.66,251.55 L368.52,249.48 L368.79,247.39 L369.24,245.32 L369.58,243.30 L369.61,241.30 L369.42,239.27 L369.27,237.22 L369.40,235.19 L369.84,233.22 L370.41,231.29 L370.86,229.34 L371.07,227.29 L371.16,225.16 L371.41,223.06 L372.05,221.12 L373.09,219.40 L374.31,217.83 L375.47,216.25 L376.44,214.56 L377.30,212.77 L378.26,211.06 L379.48,209.59 L380.93,208.37 L382.42,207.25 L383.76,205.99 L384.89,204.46 L385.91,202.73 L387.03,201.06 L388.37,199.71 L389.92,198.71 L391.55,197.89 L393.12,196.99 L394.61,195.88 L396.10,194.69 L397.68,193.72 L399.42,193.22 L401.25,193.15 L403.08,193.26 L404.83,193.19 L406.53,192.79 L408.20,192.20 L409.91,192.39 L411.65,193.48 L413.40,194.92 L415.13,193.97 L416.86,192.81 L418.63,191.90 L420.44,191.55 L422.26,191.45 L424.02,191.85 L425.66,192.70 L427.24,193.74 L428.82,194.65 L430.48,195.33 L432.16,195.94 L433.77,196.77 L435.22,197.97 L436.49,199.46 L437.71,200.96 L439.05,202.21 L440.59,203.17 L442.23,204.01 L443.81,205.02 L445.15,206.35 L446.27,207.94 L447.30,209.60 L448.45,211.15 L449.75,212.56 L451.08,214.00 L452.19,215.64 L452.92,217.55 L453.31,219.64 L453.61,221.73 L454.06,223.70 L454.77,225.54 L455.57,227.35 L456.23,229.25 L456.57,231.24 L456.66,233.29 L456.76,235.31 L457.11,237.28 L457.71,239.24 L458.37,241.24Z"/></clipPath><g clip-path="url(#cpFC)"><path d="M458.78,243.30 L458.74,245.37 L458.35,247.42 L457.85,249.42 L457.50,251.43 L457.33,253.47 L457.15,255.52 L456.71,257.51 L455.90,259.37 L454.84,261.09 L453.82,262.78 L453.06,264.57 L452.57,266.52 L452.14,268.55 L451.53,270.49 L450.60,272.23 L449.46,273.79 L448.31,275.32 L447.31,277.00 L446.43,278.83 L445.50,280.65 L444.31,282.22 L442.82,283.39 L441.14,284.24 L439.46,285.04 L437.93,286.01 L436.53,287.22 L435.13,288.46 L433.62,289.47 L431.96,290.14 L430.23,290.59 L428.56,291.11 L426.98,291.94 L425.46,293.06 L423.90,294.19 L422.24,294.99 L420.48,295.31 L418.69,295.28 L416.91,294.75 L415.16,294.05 L413.40,293.53 L411.63,294.54 L409.86,295.18 L408.14,294.98 L406.49,294.07 L404.86,293.26 L403.19,292.78 L401.45,292.61 L399.67,292.46 L397.95,292.03 L396.34,291.23 L394.82,290.21 L393.28,289.25 L391.63,288.53 L389.88,287.96 L388.16,287.26 L386.62,286.19 L385.36,284.68 L384.30,282.94 L383.26,281.24 L382.08,279.75 L380.77,278.40 L379.48,277.02 L378.40,275.41 L377.59,273.58 L376.91,271.67 L376.13,269.87 L375.09,268.27 L373.83,266.76 L372.60,265.19 L371.65,263.42 L371.08,261.47 L370.74,259.43 L370.37,257.42 L369.83,255.47 L369.18,253.54 L368.66,251.55 L368.52,249.48 L368.79,247.39 L369.24,245.32 L369.58,243.30 L369.61,241.30 L369.42,239.27 L369.27,237.22 L369.40,235.19 L369.84,233.22 L370.41,231.29 L370.86,229.34 L371.07,227.29 L371.16,225.16 L371.41,223.06 L372.05,221.12 L373.09,219.40 L374.31,217.83 L375.47,216.25 L376.44,214.56 L377.30,212.77 L378.26,211.06 L379.48,209.59 L380.93,208.37 L382.42,207.25 L383.76,205.99 L384.89,204.46 L385.91,202.73 L387.03,201.06 L388.37,199.71 L389.92,198.71 L391.55,197.89 L393.12,196.99 L394.61,195.88 L396.10,194.69 L397.68,193.72 L399.42,193.22 L401.25,193.15 L403.08,193.26 L404.83,193.19 L406.53,192.79 L408.20,192.20 L409.91,192.39 L411.65,193.48 L413.40,194.92 L415.13,193.97 L416.86,192.81 L418.63,191.90 L420.44,191.55 L422.26,191.45 L424.02,191.85 L425.66,192.70 L427.24,193.74 L428.82,194.65 L430.48,195.33 L432.16,195.94 L433.77,196.77 L435.22,197.97 L436.49,199.46 L437.71,200.96 L439.05,202.21 L440.59,203.17 L442.23,204.01 L443.81,205.02 L445.15,206.35 L446.27,207.94 L447.30,209.60 L448.45,211.15 L449.75,212.56 L451.08,214.00 L452.19,215.64 L452.92,217.55 L453.31,219.64 L453.61,221.73 L454.06,223.70 L454.77,225.54 L455.57,227.35 L456.23,229.25 L456.57,231.24 L456.66,233.29 L456.76,235.31 L457.11,237.28 L457.71,239.24 L458.37,241.24Z" fill="url(#gWM)"/><path d="M458.78,243.30 L458.74,245.37 L458.35,247.42 L457.85,249.42 L457.50,251.43 L457.33,253.47 L457.15,255.52 L456.71,257.51 L455.90,259.37 L454.84,261.09 L453.82,262.78 L453.06,264.57 L452.57,266.52 L452.14,268.55 L451.53,270.49 L450.60,272.23 L449.46,273.79 L448.31,275.32 L447.31,277.00 L446.43,278.83 L445.50,280.65 L444.31,282.22 L442.82,283.39 L441.14,284.24 L439.46,285.04 L437.93,286.01 L436.53,287.22 L435.13,288.46 L433.62,289.47 L431.96,290.14 L430.23,290.59 L428.56,291.11 L426.98,291.94 L425.46,293.06 L423.90,294.19 L422.24,294.99 L420.48,295.31 L418.69,295.28 L416.91,294.75 L415.16,294.05 L413.40,293.53 L411.63,294.54 L409.86,295.18 L408.14,294.98 L406.49,294.07 L404.86,293.26 L403.19,292.78 L401.45,292.61 L399.67,292.46 L397.95,292.03 L396.34,291.23 L394.82,290.21 L393.28,289.25 L391.63,288.53 L389.88,287.96 L388.16,287.26 L386.62,286.19 L385.36,284.68 L384.30,282.94 L383.26,281.24 L382.08,279.75 L380.77,278.40 L379.48,277.02 L378.40,275.41 L377.59,273.58 L376.91,271.67 L376.13,269.87 L375.09,268.27 L373.83,266.76 L372.60,265.19 L371.65,263.42 L371.08,261.47 L370.74,259.43 L370.37,257.42 L369.83,255.47 L369.18,253.54 L368.66,251.55 L368.52,249.48 L368.79,247.39 L369.24,245.32 L369.58,243.30 L369.61,241.30 L369.42,239.27 L369.27,237.22 L369.40,235.19 L369.84,233.22 L370.41,231.29 L370.86,229.34 L371.07,227.29 L371.16,225.16 L371.41,223.06 L372.05,221.12 L373.09,219.40 L374.31,217.83 L375.47,216.25 L376.44,214.56 L377.30,212.77 L378.26,211.06 L379.48,209.59 L380.93,208.37 L382.42,207.25 L383.76,205.99 L384.89,204.46 L385.91,202.73 L387.03,201.06 L388.37,199.71 L389.92,198.71 L391.55,197.89 L393.12,196.99 L394.61,195.88 L396.10,194.69 L397.68,193.72 L399.42,193.22 L401.25,193.15 L403.08,193.26 L404.83,193.19 L406.53,192.79 L408.20,192.20 L409.91,192.39 L411.65,193.48 L413.40,194.92 L415.13,193.97 L416.86,192.81 L418.63,191.90 L420.44,191.55 L422.26,191.45 L424.02,191.85 L425.66,192.70 L427.24,193.74 L428.82,194.65 L430.48,195.33 L432.16,195.94 L433.77,196.77 L435.22,197.97 L436.49,199.46 L437.71,200.96 L439.05,202.21 L440.59,203.17 L442.23,204.01 L443.81,205.02 L445.15,206.35 L446.27,207.94 L447.30,209.60 L448.45,211.15 L449.75,212.56 L451.08,214.00 L452.19,215.64 L452.92,217.55 L453.31,219.64 L453.61,221.73 L454.06,223.70 L454.77,225.54 L455.57,227.35 L456.23,229.25 L456.57,231.24 L456.66,233.29 L456.76,235.31 L457.11,237.28 L457.71,239.24 L458.37,241.24Z" fill="none" stroke="#a0a0a0" stroke-width="3.6"/><path d="M459.78,243.28 L457.47,241.09 L455.20,241.38" fill="none" stroke="#a0a0a0" stroke-width="6.0" stroke-linecap="round" stroke-linejoin="round"/><path d="M459.59,248.21 L456.95,245.85 L454.19,245.33" fill="none" stroke="#a0a0a0" stroke-width="6.0" stroke-linecap="round" stroke-linejoin="round"/><path d="M455.63,265.63 L454.10,263.63 L452.75,261.05" fill="none" stroke="#a0a0a0" stroke-width="6.0" stroke-linecap="round" stroke-linejoin="round"/><path d="M453.89,269.63 L451.50,267.34 L448.73,265.85" fill="none" stroke="#a0a0a0" stroke-width="6.0" stroke-linecap="round" stroke-linejoin="round"/><path d="M448.58,278.48 L447.46,275.22 L444.66,274.31" fill="none" stroke="#a0a0a0" stroke-width="6.0" stroke-linecap="round" stroke-linejoin="round"/><path d="M443.31,284.55 L442.90,280.62 L440.96,278.26" fill="none" stroke="#a0a0a0" stroke-width="6.0" stroke-linecap="round" stroke-linejoin="round"/><path d="M438.53,288.66 L436.31,285.18 L433.35,282.21" fill="none" stroke="#a0a0a0" stroke-width="6.0" stroke-linecap="round" stroke-linejoin="round"/><path d="M432.00,292.75 L429.78,289.73 L429.25,285.89" fill="none" stroke="#a0a0a0" stroke-width="6.0" stroke-linecap="round" stroke-linejoin="round"/><path d="M419.18,296.85 L418.88,293.80 L419.70,290.56" fill="none" stroke="#a0a0a0" stroke-width="6.0" stroke-linecap="round" stroke-linejoin="round"/><path d="M414.62,297.26 L414.34,294.64 L413.43,292.04" fill="none" stroke="#a0a0a0" stroke-width="6.0" stroke-linecap="round" stroke-linejoin="round"/><path d="M403.21,295.96 L405.04,293.99 L406.33,291.86" fill="none" stroke="#a0a0a0" stroke-width="6.0" stroke-linecap="round" stroke-linejoin="round"/><path d="M396.66,293.64 L395.63,290.34 L395.94,287.65" fill="none" stroke="#a0a0a0" stroke-width="6.0" stroke-linecap="round" stroke-linejoin="round"/><path d="M388.41,288.77 L390.52,285.89 L392.59,282.97" fill="none" stroke="#a0a0a0" stroke-width="6.0" stroke-linecap="round" stroke-linejoin="round"/><path d="M386.29,287.10 L388.92,286.37 L390.51,284.79" fill="none" stroke="#a0a0a0" stroke-width="6.0" stroke-linecap="round" stroke-linejoin="round"/><path d="M379.27,279.86 L381.49,278.43 L384.37,277.76" fill="none" stroke="#a0a0a0" stroke-width="6.0" stroke-linecap="round" stroke-linejoin="round"/><path d="M374.22,272.19 L376.42,271.53 L378.78,271.10" fill="none" stroke="#a0a0a0" stroke-width="6.0" stroke-linecap="round" stroke-linejoin="round"/><path d="M369.71,261.43 L371.98,258.53 L374.56,256.62" fill="none" stroke="#a0a0a0" stroke-width="6.0" stroke-linecap="round" stroke-linejoin="round"/><path d="M367.76,252.96 L371.28,253.54 L374.66,253.19" fill="none" stroke="#a0a0a0" stroke-width="6.0" stroke-linecap="round" stroke-linejoin="round"/><path d="M367.07,240.65 L370.83,241.00 L374.57,242.59" fill="none" stroke="#a0a0a0" stroke-width="6.0" stroke-linecap="round" stroke-linejoin="round"/><path d="M368.36,230.39 L370.51,233.21 L372.80,235.69" fill="none" stroke="#a0a0a0" stroke-width="6.0" stroke-linecap="round" stroke-linejoin="round"/><path d="M369.70,225.22 L373.24,224.50 L375.88,226.52" fill="none" stroke="#a0a0a0" stroke-width="6.0" stroke-linecap="round" stroke-linejoin="round"/><path d="M374.57,213.77 L377.92,213.44 L379.78,215.62" fill="none" stroke="#a0a0a0" stroke-width="6.0" stroke-linecap="round" stroke-linejoin="round"/><path d="M376.04,211.31 L378.93,211.20 L381.49,211.67" fill="none" stroke="#a0a0a0" stroke-width="6.0" stroke-linecap="round" stroke-linejoin="round"/><path d="M384.25,201.31 L384.67,204.90 L384.92,208.78" fill="none" stroke="#a0a0a0" stroke-width="6.0" stroke-linecap="round" stroke-linejoin="round"/><path d="M393.28,194.66 L395.78,196.89 L395.83,200.42" fill="none" stroke="#a0a0a0" stroke-width="6.0" stroke-linecap="round" stroke-linejoin="round"/><path d="M395.51,193.50 L396.75,197.48 L398.46,201.22" fill="none" stroke="#a0a0a0" stroke-width="6.0" stroke-linecap="round" stroke-linejoin="round"/><path d="M405.46,190.12 L403.92,193.98 L404.32,197.40" fill="none" stroke="#a0a0a0" stroke-width="6.0" stroke-linecap="round" stroke-linejoin="round"/><path d="M413.12,189.32 L413.38,192.64 L412.67,195.97" fill="none" stroke="#a0a0a0" stroke-width="6.0" stroke-linecap="round" stroke-linejoin="round"/><path d="M418.72,189.68 L417.42,193.04 L418.23,196.66" fill="none" stroke="#a0a0a0" stroke-width="6.0" stroke-linecap="round" stroke-linejoin="round"/><path d="M431.31,193.51 L430.25,196.52 L429.21,199.55" fill="none" stroke="#a0a0a0" stroke-width="6.0" stroke-linecap="round" stroke-linejoin="round"/><path d="M437.31,197.05 L436.77,201.72 L436.18,206.45" fill="none" stroke="#a0a0a0" stroke-width="6.0" stroke-linecap="round" stroke-linejoin="round"/><path d="M442.92,201.67 L441.29,203.50 L438.46,204.25" fill="none" stroke="#a0a0a0" stroke-width="6.0" stroke-linecap="round" stroke-linejoin="round"/><path d="M448.64,208.20 L446.49,211.76 L444.10,214.99" fill="none" stroke="#a0a0a0" stroke-width="6.0" stroke-linecap="round" stroke-linejoin="round"/><path d="M452.74,214.71 L449.57,216.94 L447.40,221.14" fill="none" stroke="#a0a0a0" stroke-width="6.0" stroke-linecap="round" stroke-linejoin="round"/><path d="M455.88,221.64 L452.96,223.43 L449.84,224.69" fill="none" stroke="#a0a0a0" stroke-width="6.0" stroke-linecap="round" stroke-linejoin="round"/><path d="M459.42,236.57 L457.46,238.36 L455.49,240.90" fill="none" stroke="#a0a0a0" stroke-width="6.0" stroke-linecap="round" stroke-linejoin="round"/><path d="M455.20,241.38 L452.90,240.87 L450.50,239.10" fill="none" stroke="#a0a0a0" stroke-width="6.0" stroke-linecap="round" stroke-linejoin="round"/><path d="M454.19,245.33 L451.33,246.63 L448.64,244.85" fill="none" stroke="#a0a0a0" stroke-width="6.0" stroke-linecap="round" stroke-linejoin="round"/><path d="M451.33,246.63 L447.97,243.85" fill="none" stroke="#a0a0a0" stroke-width="6.0" stroke-linecap="round" stroke-linejoin="round"/><path d="M452.75,261.05 L451.33,258.50 L449.58,256.90" fill="none" stroke="#a0a0a0" stroke-width="6.0" stroke-linecap="round" stroke-linejoin="round"/><path d="M448.73,265.85 L446.81,262.46 L444.72,259.31" fill="none" stroke="#a0a0a0" stroke-width="6.0" stroke-linecap="round" stroke-linejoin="round"/><path d="M446.81,262.46 L440.52,266.32" fill="none" stroke="#a0a0a0" stroke-width="6.0" stroke-linecap="round" stroke-linejoin="round"/><path d="M444.66,274.31 L443.66,270.86 L442.01,268.30" fill="none" stroke="#a0a0a0" stroke-width="6.0" stroke-linecap="round" stroke-linejoin="round"/><path d="M440.96,278.26 L439.99,274.83 L438.41,272.04" fill="none" stroke="#a0a0a0" stroke-width="6.0" stroke-linecap="round" stroke-linejoin="round"/><path d="M433.35,282.21 L430.47,279.14 L429.10,275.06" fill="none" stroke="#a0a0a0" stroke-width="6.0" stroke-linecap="round" stroke-linejoin="round"/><path d="M433.35,282.21 L429.10,281.54" fill="none" stroke="#a0a0a0" stroke-width="6.0" stroke-linecap="round" stroke-linejoin="round"/><path d="M429.25,285.89 L427.69,282.55 L425.86,279.34" fill="none" stroke="#a0a0a0" stroke-width="6.0" stroke-linecap="round" stroke-linejoin="round"/><path d="M427.69,282.55 L420.90,281.08" fill="none" stroke="#a0a0a0" stroke-width="6.0" stroke-linecap="round" stroke-linejoin="round"/><path d="M419.70,290.56 L420.10,287.37 L418.80,284.51" fill="none" stroke="#a0a0a0" stroke-width="6.0" stroke-linecap="round" stroke-linejoin="round"/><path d="M419.70,290.56 L421.89,285.94" fill="none" stroke="#a0a0a0" stroke-width="6.0" stroke-linecap="round" stroke-linejoin="round"/><path d="M413.43,292.04 L411.50,289.36 L410.93,286.70" fill="none" stroke="#a0a0a0" stroke-width="6.0" stroke-linecap="round" stroke-linejoin="round"/><path d="M414.34,294.64 L417.75,291.25" fill="none" stroke="#a0a0a0" stroke-width="6.0" stroke-linecap="round" stroke-linejoin="round"/><path d="M406.33,291.86 L408.08,289.78 L408.21,287.42" fill="none" stroke="#a0a0a0" stroke-width="6.0" stroke-linecap="round" stroke-linejoin="round"/><path d="M395.94,287.65 L396.01,284.82 L397.13,282.57" fill="none" stroke="#a0a0a0" stroke-width="6.0" stroke-linecap="round" stroke-linejoin="round"/><path d="M392.59,282.97 L394.32,279.81 L396.28,276.81" fill="none" stroke="#a0a0a0" stroke-width="6.0" stroke-linecap="round" stroke-linejoin="round"/><path d="M390.52,285.89 L389.13,280.11" fill="none" stroke="#a0a0a0" stroke-width="6.0" stroke-linecap="round" stroke-linejoin="round"/><path d="M390.51,284.79 L393.23,283.98 L393.00,281.10" fill="none" stroke="#a0a0a0" stroke-width="6.0" stroke-linecap="round" stroke-linejoin="round"/><path d="M384.37,277.76 L385.13,274.59 L385.71,271.07" fill="none" stroke="#a0a0a0" stroke-width="6.0" stroke-linecap="round" stroke-linejoin="round"/><path d="M378.78,271.10 L379.83,268.40 L382.36,268.28" fill="none" stroke="#a0a0a0" stroke-width="6.0" stroke-linecap="round" stroke-linejoin="round"/><path d="M379.83,268.40 L380.77,260.93" fill="none" stroke="#a0a0a0" stroke-width="6.0" stroke-linecap="round" stroke-linejoin="round"/><path d="M374.56,256.62 L377.66,256.64 L380.61,256.10" fill="none" stroke="#a0a0a0" stroke-width="6.0" stroke-linecap="round" stroke-linejoin="round"/><path d="M371.98,258.53 L375.49,255.31" fill="none" stroke="#a0a0a0" stroke-width="6.0" stroke-linecap="round" stroke-linejoin="round"/><path d="M374.66,253.19 L377.72,251.09 L381.22,251.50" fill="none" stroke="#a0a0a0" stroke-width="6.0" stroke-linecap="round" stroke-linejoin="round"/><path d="M374.57,242.59 L378.35,242.23 L382.11,242.91" fill="none" stroke="#a0a0a0" stroke-width="6.0" stroke-linecap="round" stroke-linejoin="round"/><path d="M372.80,235.69 L375.38,236.31 L377.89,237.46" fill="none" stroke="#a0a0a0" stroke-width="6.0" stroke-linecap="round" stroke-linejoin="round"/><path d="M375.88,226.52 L378.97,227.24 L382.28,227.36" fill="none" stroke="#a0a0a0" stroke-width="6.0" stroke-linecap="round" stroke-linejoin="round"/><path d="M375.88,226.52 L377.43,231.36" fill="none" stroke="#a0a0a0" stroke-width="6.0" stroke-linecap="round" stroke-linejoin="round"/><path d="M379.78,215.62 L381.68,217.73 L384.76,217.94" fill="none" stroke="#a0a0a0" stroke-width="6.0" stroke-linecap="round" stroke-linejoin="round"/><path d="M381.49,211.67 L382.30,214.62 L384.83,215.13" fill="none" stroke="#a0a0a0" stroke-width="6.0" stroke-linecap="round" stroke-linejoin="round"/><path d="M384.92,208.78 L388.08,209.57 L390.22,211.47" fill="none" stroke="#a0a0a0" stroke-width="6.0" stroke-linecap="round" stroke-linejoin="round"/><path d="M395.83,200.42 L396.18,203.83 L396.79,207.10" fill="none" stroke="#a0a0a0" stroke-width="6.0" stroke-linecap="round" stroke-linejoin="round"/><path d="M396.18,203.83 L400.36,206.13" fill="none" stroke="#a0a0a0" stroke-width="6.0" stroke-linecap="round" stroke-linejoin="round"/><path d="M398.46,201.22 L401.19,204.52 L402.20,208.59" fill="none" stroke="#a0a0a0" stroke-width="6.0" stroke-linecap="round" stroke-linejoin="round"/><path d="M404.32,197.40 L403.83,201.09 L402.94,204.97" fill="none" stroke="#a0a0a0" stroke-width="6.0" stroke-linecap="round" stroke-linejoin="round"/><path d="M412.67,195.97 L412.80,199.29 L413.03,202.60" fill="none" stroke="#a0a0a0" stroke-width="6.0" stroke-linecap="round" stroke-linejoin="round"/><path d="M418.23,196.66 L417.90,200.14 L417.75,203.64" fill="none" stroke="#a0a0a0" stroke-width="6.0" stroke-linecap="round" stroke-linejoin="round"/><path d="M429.21,199.55 L428.80,202.89 L427.51,205.78" fill="none" stroke="#a0a0a0" stroke-width="6.0" stroke-linecap="round" stroke-linejoin="round"/><path d="M436.18,206.45 L433.33,209.36 L431.40,213.03" fill="none" stroke="#a0a0a0" stroke-width="6.0" stroke-linecap="round" stroke-linejoin="round"/><path d="M438.46,204.25 L436.28,205.65 L433.66,206.75" fill="none" stroke="#a0a0a0" stroke-width="6.0" stroke-linecap="round" stroke-linejoin="round"/><path d="M444.10,214.99 L440.46,216.45 L438.49,220.28" fill="none" stroke="#a0a0a0" stroke-width="6.0" stroke-linecap="round" stroke-linejoin="round"/><path d="M447.40,221.14 L444.72,224.45 L440.93,225.34" fill="none" stroke="#a0a0a0" stroke-width="6.0" stroke-linecap="round" stroke-linejoin="round"/><path d="M444.72,224.45 L442.68,227.08" fill="none" stroke="#a0a0a0" stroke-width="6.0" stroke-linecap="round" stroke-linejoin="round"/><path d="M449.84,224.69 L446.08,224.38 L442.87,225.51" fill="none" stroke="#a0a0a0" stroke-width="6.0" stroke-linecap="round" stroke-linejoin="round"/><path d="M455.49,240.90 L453.26,239.19 L451.06,238.37" fill="none" stroke="#a0a0a0" stroke-width="6.0" stroke-linecap="round" stroke-linejoin="round"/><path d="M457.46,238.36 L452.84,241.44" fill="none" stroke="#a0a0a0" stroke-width="6.0" stroke-linecap="round" stroke-linejoin="round"/><path d="M459.78,243.28 L457.47,241.09 L455.20,241.38" fill="none" stroke="#2b2b2b" stroke-width="2.9" stroke-linecap="round" stroke-linejoin="round"/><path d="M459.59,248.21 L456.95,245.85 L454.19,245.33" fill="none" stroke="#2b2b2b" stroke-width="2.9" stroke-linecap="round" stroke-linejoin="round"/><path d="M455.63,265.63 L454.10,263.63 L452.75,261.05" fill="none" stroke="#2b2b2b" stroke-width="2.9" stroke-linecap="round" stroke-linejoin="round"/><path d="M453.89,269.63 L451.50,267.34 L448.73,265.85" fill="none" stroke="#2b2b2b" stroke-width="2.9" stroke-linecap="round" stroke-linejoin="round"/><path d="M448.58,278.48 L447.46,275.22 L444.66,274.31" fill="none" stroke="#2b2b2b" stroke-width="2.9" stroke-linecap="round" stroke-linejoin="round"/><path d="M443.31,284.55 L442.90,280.62 L440.96,278.26" fill="none" stroke="#2b2b2b" stroke-width="2.9" stroke-linecap="round" stroke-linejoin="round"/><path d="M438.53,288.66 L436.31,285.18 L433.35,282.21" fill="none" stroke="#2b2b2b" stroke-width="2.9" stroke-linecap="round" stroke-linejoin="round"/><path d="M432.00,292.75 L429.78,289.73 L429.25,285.89" fill="none" stroke="#2b2b2b" stroke-width="2.9" stroke-linecap="round" stroke-linejoin="round"/><path d="M419.18,296.85 L418.88,293.80 L419.70,290.56" fill="none" stroke="#2b2b2b" stroke-width="2.9" stroke-linecap="round" stroke-linejoin="round"/><path d="M414.62,297.26 L414.34,294.64 L413.43,292.04" fill="none" stroke="#2b2b2b" stroke-width="2.9" stroke-linecap="round" stroke-linejoin="round"/><path d="M403.21,295.96 L405.04,293.99 L406.33,291.86" fill="none" stroke="#2b2b2b" stroke-width="2.9" stroke-linecap="round" stroke-linejoin="round"/><path d="M396.66,293.64 L395.63,290.34 L395.94,287.65" fill="none" stroke="#2b2b2b" stroke-width="2.9" stroke-linecap="round" stroke-linejoin="round"/><path d="M388.41,288.77 L390.52,285.89 L392.59,282.97" fill="none" stroke="#2b2b2b" stroke-width="2.9" stroke-linecap="round" stroke-linejoin="round"/><path d="M386.29,287.10 L388.92,286.37 L390.51,284.79" fill="none" stroke="#2b2b2b" stroke-width="2.9" stroke-linecap="round" stroke-linejoin="round"/><path d="M379.27,279.86 L381.49,278.43 L384.37,277.76" fill="none" stroke="#2b2b2b" stroke-width="2.9" stroke-linecap="round" stroke-linejoin="round"/><path d="M374.22,272.19 L376.42,271.53 L378.78,271.10" fill="none" stroke="#2b2b2b" stroke-width="2.9" stroke-linecap="round" stroke-linejoin="round"/><path d="M369.71,261.43 L371.98,258.53 L374.56,256.62" fill="none" stroke="#2b2b2b" stroke-width="2.9" stroke-linecap="round" stroke-linejoin="round"/><path d="M367.76,252.96 L371.28,253.54 L374.66,253.19" fill="none" stroke="#2b2b2b" stroke-width="2.9" stroke-linecap="round" stroke-linejoin="round"/><path d="M367.07,240.65 L370.83,241.00 L374.57,242.59" fill="none" stroke="#2b2b2b" stroke-width="2.9" stroke-linecap="round" stroke-linejoin="round"/><path d="M368.36,230.39 L370.51,233.21 L372.80,235.69" fill="none" stroke="#2b2b2b" stroke-width="2.9" stroke-linecap="round" stroke-linejoin="round"/><path d="M369.70,225.22 L373.24,224.50 L375.88,226.52" fill="none" stroke="#2b2b2b" stroke-width="2.9" stroke-linecap="round" stroke-linejoin="round"/><path d="M374.57,213.77 L377.92,213.44 L379.78,215.62" fill="none" stroke="#2b2b2b" stroke-width="2.9" stroke-linecap="round" stroke-linejoin="round"/><path d="M376.04,211.31 L378.93,211.20 L381.49,211.67" fill="none" stroke="#2b2b2b" stroke-width="2.9" stroke-linecap="round" stroke-linejoin="round"/><path d="M384.25,201.31 L384.67,204.90 L384.92,208.78" fill="none" stroke="#2b2b2b" stroke-width="2.9" stroke-linecap="round" stroke-linejoin="round"/><path d="M393.28,194.66 L395.78,196.89 L395.83,200.42" fill="none" stroke="#2b2b2b" stroke-width="2.9" stroke-linecap="round" stroke-linejoin="round"/><path d="M395.51,193.50 L396.75,197.48 L398.46,201.22" fill="none" stroke="#2b2b2b" stroke-width="2.9" stroke-linecap="round" stroke-linejoin="round"/><path d="M405.46,190.12 L403.92,193.98 L404.32,197.40" fill="none" stroke="#2b2b2b" stroke-width="2.9" stroke-linecap="round" stroke-linejoin="round"/><path d="M413.12,189.32 L413.38,192.64 L412.67,195.97" fill="none" stroke="#2b2b2b" stroke-width="2.9" stroke-linecap="round" stroke-linejoin="round"/><path d="M418.72,189.68 L417.42,193.04 L418.23,196.66" fill="none" stroke="#2b2b2b" stroke-width="2.9" stroke-linecap="round" stroke-linejoin="round"/><path d="M431.31,193.51 L430.25,196.52 L429.21,199.55" fill="none" stroke="#2b2b2b" stroke-width="2.9" stroke-linecap="round" stroke-linejoin="round"/><path d="M437.31,197.05 L436.77,201.72 L436.18,206.45" fill="none" stroke="#2b2b2b" stroke-width="2.9" stroke-linecap="round" stroke-linejoin="round"/><path d="M442.92,201.67 L441.29,203.50 L438.46,204.25" fill="none" stroke="#2b2b2b" stroke-width="2.9" stroke-linecap="round" stroke-linejoin="round"/><path d="M448.64,208.20 L446.49,211.76 L444.10,214.99" fill="none" stroke="#2b2b2b" stroke-width="2.9" stroke-linecap="round" stroke-linejoin="round"/><path d="M452.74,214.71 L449.57,216.94 L447.40,221.14" fill="none" stroke="#2b2b2b" stroke-width="2.9" stroke-linecap="round" stroke-linejoin="round"/><path d="M455.88,221.64 L452.96,223.43 L449.84,224.69" fill="none" stroke="#2b2b2b" stroke-width="2.9" stroke-linecap="round" stroke-linejoin="round"/><path d="M459.42,236.57 L457.46,238.36 L455.49,240.90" fill="none" stroke="#2b2b2b" stroke-width="2.9" stroke-linecap="round" stroke-linejoin="round"/><path d="M455.20,241.38 L452.90,240.87 L450.50,239.10" fill="none" stroke="#2b2b2b" stroke-width="2.0" stroke-linecap="round" stroke-linejoin="round"/><path d="M454.19,245.33 L451.33,246.63 L448.64,244.85" fill="none" stroke="#2b2b2b" stroke-width="2.0" stroke-linecap="round" stroke-linejoin="round"/><path d="M451.33,246.63 L447.97,243.85" fill="none" stroke="#2b2b2b" stroke-width="2.0" stroke-linecap="round" stroke-linejoin="round"/><path d="M452.75,261.05 L451.33,258.50 L449.58,256.90" fill="none" stroke="#2b2b2b" stroke-width="2.0" stroke-linecap="round" stroke-linejoin="round"/><path d="M448.73,265.85 L446.81,262.46 L444.72,259.31" fill="none" stroke="#2b2b2b" stroke-width="2.0" stroke-linecap="round" stroke-linejoin="round"/><path d="M446.81,262.46 L440.52,266.32" fill="none" stroke="#2b2b2b" stroke-width="2.0" stroke-linecap="round" stroke-linejoin="round"/><path d="M444.66,274.31 L443.66,270.86 L442.01,268.30" fill="none" stroke="#2b2b2b" stroke-width="2.0" stroke-linecap="round" stroke-linejoin="round"/><path d="M440.96,278.26 L439.99,274.83 L438.41,272.04" fill="none" stroke="#2b2b2b" stroke-width="2.0" stroke-linecap="round" stroke-linejoin="round"/><path d="M433.35,282.21 L430.47,279.14 L429.10,275.06" fill="none" stroke="#2b2b2b" stroke-width="2.0" stroke-linecap="round" stroke-linejoin="round"/><path d="M433.35,282.21 L429.10,281.54" fill="none" stroke="#2b2b2b" stroke-width="2.0" stroke-linecap="round" stroke-linejoin="round"/><path d="M429.25,285.89 L427.69,282.55 L425.86,279.34" fill="none" stroke="#2b2b2b" stroke-width="2.0" stroke-linecap="round" stroke-linejoin="round"/><path d="M427.69,282.55 L420.90,281.08" fill="none" stroke="#2b2b2b" stroke-width="2.0" stroke-linecap="round" stroke-linejoin="round"/><path d="M419.70,290.56 L420.10,287.37 L418.80,284.51" fill="none" stroke="#2b2b2b" stroke-width="2.0" stroke-linecap="round" stroke-linejoin="round"/><path d="M419.70,290.56 L421.89,285.94" fill="none" stroke="#2b2b2b" stroke-width="2.0" stroke-linecap="round" stroke-linejoin="round"/><path d="M413.43,292.04 L411.50,289.36 L410.93,286.70" fill="none" stroke="#2b2b2b" stroke-width="2.0" stroke-linecap="round" stroke-linejoin="round"/><path d="M414.34,294.64 L417.75,291.25" fill="none" stroke="#2b2b2b" stroke-width="2.0" stroke-linecap="round" stroke-linejoin="round"/><path d="M406.33,291.86 L408.08,289.78 L408.21,287.42" fill="none" stroke="#2b2b2b" stroke-width="2.0" stroke-linecap="round" stroke-linejoin="round"/><path d="M395.94,287.65 L396.01,284.82 L397.13,282.57" fill="none" stroke="#2b2b2b" stroke-width="2.0" stroke-linecap="round" stroke-linejoin="round"/><path d="M392.59,282.97 L394.32,279.81 L396.28,276.81" fill="none" stroke="#2b2b2b" stroke-width="2.0" stroke-linecap="round" stroke-linejoin="round"/><path d="M390.52,285.89 L389.13,280.11" fill="none" stroke="#2b2b2b" stroke-width="2.0" stroke-linecap="round" stroke-linejoin="round"/><path d="M390.51,284.79 L393.23,283.98 L393.00,281.10" fill="none" stroke="#2b2b2b" stroke-width="2.0" stroke-linecap="round" stroke-linejoin="round"/><path d="M384.37,277.76 L385.13,274.59 L385.71,271.07" fill="none" stroke="#2b2b2b" stroke-width="2.0" stroke-linecap="round" stroke-linejoin="round"/><path d="M378.78,271.10 L379.83,268.40 L382.36,268.28" fill="none" stroke="#2b2b2b" stroke-width="2.0" stroke-linecap="round" stroke-linejoin="round"/><path d="M379.83,268.40 L380.77,260.93" fill="none" stroke="#2b2b2b" stroke-width="2.0" stroke-linecap="round" stroke-linejoin="round"/><path d="M374.56,256.62 L377.66,256.64 L380.61,256.10" fill="none" stroke="#2b2b2b" stroke-width="2.0" stroke-linecap="round" stroke-linejoin="round"/><path d="M371.98,258.53 L375.49,255.31" fill="none" stroke="#2b2b2b" stroke-width="2.0" stroke-linecap="round" stroke-linejoin="round"/><path d="M374.66,253.19 L377.72,251.09 L381.22,251.50" fill="none" stroke="#2b2b2b" stroke-width="2.0" stroke-linecap="round" stroke-linejoin="round"/><path d="M374.57,242.59 L378.35,242.23 L382.11,242.91" fill="none" stroke="#2b2b2b" stroke-width="2.0" stroke-linecap="round" stroke-linejoin="round"/><path d="M372.80,235.69 L375.38,236.31 L377.89,237.46" fill="none" stroke="#2b2b2b" stroke-width="2.0" stroke-linecap="round" stroke-linejoin="round"/><path d="M375.88,226.52 L378.97,227.24 L382.28,227.36" fill="none" stroke="#2b2b2b" stroke-width="2.0" stroke-linecap="round" stroke-linejoin="round"/><path d="M375.88,226.52 L377.43,231.36" fill="none" stroke="#2b2b2b" stroke-width="2.0" stroke-linecap="round" stroke-linejoin="round"/><path d="M379.78,215.62 L381.68,217.73 L384.76,217.94" fill="none" stroke="#2b2b2b" stroke-width="2.0" stroke-linecap="round" stroke-linejoin="round"/><path d="M381.49,211.67 L382.30,214.62 L384.83,215.13" fill="none" stroke="#2b2b2b" stroke-width="2.0" stroke-linecap="round" stroke-linejoin="round"/><path d="M384.92,208.78 L388.08,209.57 L390.22,211.47" fill="none" stroke="#2b2b2b" stroke-width="2.0" stroke-linecap="round" stroke-linejoin="round"/><path d="M395.83,200.42 L396.18,203.83 L396.79,207.10" fill="none" stroke="#2b2b2b" stroke-width="2.0" stroke-linecap="round" stroke-linejoin="round"/><path d="M396.18,203.83 L400.36,206.13" fill="none" stroke="#2b2b2b" stroke-width="2.0" stroke-linecap="round" stroke-linejoin="round"/><path d="M398.46,201.22 L401.19,204.52 L402.20,208.59" fill="none" stroke="#2b2b2b" stroke-width="2.0" stroke-linecap="round" stroke-linejoin="round"/><path d="M404.32,197.40 L403.83,201.09 L402.94,204.97" fill="none" stroke="#2b2b2b" stroke-width="2.0" stroke-linecap="round" stroke-linejoin="round"/><path d="M412.67,195.97 L412.80,199.29 L413.03,202.60" fill="none" stroke="#2b2b2b" stroke-width="2.0" stroke-linecap="round" stroke-linejoin="round"/><path d="M418.23,196.66 L417.90,200.14 L417.75,203.64" fill="none" stroke="#2b2b2b" stroke-width="2.0" stroke-linecap="round" stroke-linejoin="round"/><path d="M429.21,199.55 L428.80,202.89 L427.51,205.78" fill="none" stroke="#2b2b2b" stroke-width="2.0" stroke-linecap="round" stroke-linejoin="round"/><path d="M436.18,206.45 L433.33,209.36 L431.40,213.03" fill="none" stroke="#2b2b2b" stroke-width="2.0" stroke-linecap="round" stroke-linejoin="round"/><path d="M438.46,204.25 L436.28,205.65 L433.66,206.75" fill="none" stroke="#2b2b2b" stroke-width="2.0" stroke-linecap="round" stroke-linejoin="round"/><path d="M444.10,214.99 L440.46,216.45 L438.49,220.28" fill="none" stroke="#2b2b2b" stroke-width="2.0" stroke-linecap="round" stroke-linejoin="round"/><path d="M447.40,221.14 L444.72,224.45 L440.93,225.34" fill="none" stroke="#2b2b2b" stroke-width="2.0" stroke-linecap="round" stroke-linejoin="round"/><path d="M444.72,224.45 L442.68,227.08" fill="none" stroke="#2b2b2b" stroke-width="2.0" stroke-linecap="round" stroke-linejoin="round"/><path d="M449.84,224.69 L446.08,224.38 L442.87,225.51" fill="none" stroke="#2b2b2b" stroke-width="2.0" stroke-linecap="round" stroke-linejoin="round"/><path d="M455.49,240.90 L453.26,239.19 L451.06,238.37" fill="none" stroke="#2b2b2b" stroke-width="2.0" stroke-linecap="round" stroke-linejoin="round"/><path d="M457.46,238.36 L452.84,241.44" fill="none" stroke="#2b2b2b" stroke-width="2.0" stroke-linecap="round" stroke-linejoin="round"/>
<path d="M413.4,191.4 L413.4,295.2" stroke="#8e8e8e" stroke-width="4.5"/>
<path d="M413.4,191.4 L413.4,295.2" stroke="#262626" stroke-width="1.8" stroke-dasharray="6,1.5"/>
<path d="M404,205 q4,8 3,16 M423,205 q-4,8 -3,16 M400,282 q6,-10 10,-14 M427,282 q-6,-10 -10,-14 M398,230 l8,2 M429,230 l-8,2" stroke="#8e8e8e" stroke-width="5" fill="none" stroke-linecap="round"/>
<path d="M404,205 q4,8 3,16 M423,205 q-4,8 -3,16 M400,282 q6,-10 10,-14 M427,282 q-6,-10 -10,-14 M398,230 l8,2 M429,230 l-8,2" stroke="#333" stroke-width="1.9" fill="none" stroke-linecap="round"/>
<path d="M408,238 l0,14 M419,238 l0,14" stroke="#777" stroke-width="2.2" fill="none" stroke-linecap="round"/>
</g>
</g>
<path d="M458.78,243.30 L458.74,245.37 L458.35,247.42 L457.85,249.42 L457.50,251.43 L457.33,253.47 L457.15,255.52 L456.71,257.51 L455.90,259.37 L454.84,261.09 L453.82,262.78 L453.06,264.57 L452.57,266.52 L452.14,268.55 L451.53,270.49 L450.60,272.23 L449.46,273.79 L448.31,275.32 L447.31,277.00 L446.43,278.83 L445.50,280.65 L444.31,282.22 L442.82,283.39 L441.14,284.24 L439.46,285.04 L437.93,286.01 L436.53,287.22 L435.13,288.46 L433.62,289.47 L431.96,290.14 L430.23,290.59 L428.56,291.11 L426.98,291.94 L425.46,293.06 L423.90,294.19 L422.24,294.99 L420.48,295.31 L418.69,295.28 L416.91,294.75 L415.16,294.05 L413.40,293.53 L411.63,294.54 L409.86,295.18 L408.14,294.98 L406.49,294.07 L404.86,293.26 L403.19,292.78 L401.45,292.61 L399.67,292.46 L397.95,292.03 L396.34,291.23 L394.82,290.21 L393.28,289.25 L391.63,288.53 L389.88,287.96 L388.16,287.26 L386.62,286.19 L385.36,284.68 L384.30,282.94 L383.26,281.24 L382.08,279.75 L380.77,278.40 L379.48,277.02 L378.40,275.41 L377.59,273.58 L376.91,271.67 L376.13,269.87 L375.09,268.27 L373.83,266.76 L372.60,265.19 L371.65,263.42 L371.08,261.47 L370.74,259.43 L370.37,257.42 L369.83,255.47 L369.18,253.54 L368.66,251.55 L368.52,249.48 L368.79,247.39 L369.24,245.32 L369.58,243.30 L369.61,241.30 L369.42,239.27 L369.27,237.22 L369.40,235.19 L369.84,233.22 L370.41,231.29 L370.86,229.34 L371.07,227.29 L371.16,225.16 L371.41,223.06 L372.05,221.12 L373.09,219.40 L374.31,217.83 L375.47,216.25 L376.44,214.56 L377.30,212.77 L378.26,211.06 L379.48,209.59 L380.93,208.37 L382.42,207.25 L383.76,205.99 L384.89,204.46 L385.91,202.73 L387.03,201.06 L388.37,199.71 L389.92,198.71 L391.55,197.89 L393.12,196.99 L394.61,195.88 L396.10,194.69 L397.68,193.72 L399.42,193.22 L401.25,193.15 L403.08,193.26 L404.83,193.19 L406.53,192.79 L408.20,192.20 L409.91,192.39 L411.65,193.48 L413.40,194.92 L415.13,193.97 L416.86,192.81 L418.63,191.90 L420.44,191.55 L422.26,191.45 L424.02,191.85 L425.66,192.70 L427.24,193.74 L428.82,194.65 L430.48,195.33 L432.16,195.94 L433.77,196.77 L435.22,197.97 L436.49,199.46 L437.71,200.96 L439.05,202.21 L440.59,203.17 L442.23,204.01 L443.81,205.02 L445.15,206.35 L446.27,207.94 L447.30,209.60 L448.45,211.15 L449.75,212.56 L451.08,214.00 L452.19,215.64 L452.92,217.55 L453.31,219.64 L453.61,221.73 L454.06,223.70 L454.77,225.54 L455.57,227.35 L456.23,229.25 L456.57,231.24 L456.66,233.29 L456.76,235.31 L457.11,237.28 L457.71,239.24 L458.37,241.24Z" fill="none" stroke="#262626" stroke-width="1.1"/>
<g filter="url(#blur06)">
<ellipse cx="378.0" cy="255.6" rx="8.8" ry="6.2" fill="url(#gOr)"/>
<ellipse cx="377.0" cy="262.8" rx="6.4" ry="3.4" fill="#2fae2a"/>
<ellipse cx="449.6" cy="252.4" rx="8.3" ry="6.0" fill="url(#gOr)"/>
<ellipse cx="456" cy="254" rx="2" ry="5" fill="#b83a10" opacity="0.7"/>
</g>
<clipPath id="cpDTI"><path d="M689.2,236.0 L689.3,237.7 L689.5,239.5 L689.7,241.2 L689.1,242.9 L689.0,244.7 L689.0,246.5 L689.3,248.4 L688.5,250.0 L688.7,252.0 L688.3,253.8 L687.5,255.4 L687.3,257.4 L686.7,259.1 L686.1,260.9 L685.8,263.0 L684.3,264.3 L683.4,265.9 L683.1,268.2 L681.6,269.5 L680.3,270.9 L679.2,272.6 L677.9,274.0 L676.8,275.9 L674.9,276.5 L673.3,277.7 L671.8,279.1 L670.1,280.1 L668.5,281.4 L666.6,282.1 L664.6,282.3 L662.7,282.8 L661.0,283.9 L659.1,284.4 L656.9,283.8 L655.1,284.8 L653.2,285.1 L651.2,285.0 L649.2,284.1 L647.3,284.1 L645.4,283.4 L643.5,283.5 L641.5,284.5 L639.6,284.6 L637.7,284.3 L635.8,284.4 L633.8,284.1 L631.9,283.9 L629.9,283.7 L627.9,283.4 L626.0,282.9 L624.1,282.2 L622.3,281.4 L620.6,280.3 L619.1,278.9 L617.5,277.7 L615.7,276.9 L614.2,275.5 L612.7,274.3 L611.8,272.4 L610.5,270.9 L608.8,269.8 L607.9,268.0 L606.9,266.3 L606.5,264.3 L605.5,262.7 L604.3,261.2 L603.9,259.2 L603.1,257.6 L603.3,255.4 L602.7,253.7 L602.0,252.0 L602.0,250.1 L601.5,248.4 L601.5,246.5 L601.8,244.7 L601.7,242.9 L600.8,241.3 L601.6,239.5 L601.5,237.7 L601.3,236.0 L601.0,234.3 L600.9,232.5 L601.3,230.8 L601.3,229.0 L601.2,227.2 L601.7,225.5 L601.8,223.7 L601.8,221.8 L602.1,220.0 L602.9,218.4 L603.1,216.5 L603.5,214.7 L603.5,212.5 L604.1,210.7 L604.4,208.6 L605.3,206.9 L606.5,205.3 L606.9,203.1 L607.7,201.1 L609.2,199.8 L610.5,198.3 L611.5,196.3 L612.8,194.7 L614.3,193.2 L615.9,191.8 L617.4,190.3 L618.7,188.3 L620.9,187.9 L622.4,186.2 L624.5,185.6 L626.5,184.8 L628.3,183.3 L630.5,183.2 L632.6,182.8 L634.7,182.1 L636.8,181.5 L638.9,181.5 L641.1,181.0 L643.3,181.4 L645.4,181.3 L647.6,181.1 L649.7,181.4 L651.9,181.3 L654.0,181.8 L656.0,182.5 L658.1,182.9 L660.4,182.7 L662.5,183.4 L664.6,184.0 L666.5,185.1 L668.3,186.2 L670.0,187.8 L672.1,188.3 L673.4,190.3 L675.1,191.5 L676.5,193.2 L678.0,194.6 L679.3,196.3 L680.6,198.0 L681.9,199.5 L682.8,201.4 L683.5,203.5 L684.8,205.0 L685.5,206.9 L686.2,208.7 L686.2,211.0 L687.2,212.6 L687.9,214.3 L687.8,216.5 L688.1,218.3 L688.9,220.0 L688.8,221.9 L689.0,223.7 L689.5,225.4 L689.3,227.3 L689.2,229.1 L689.3,230.8 L689.4,232.5 L689.8,234.3Z"/></clipPath>
<g clip-path="url(#cpDTI)"><g filter="url(#blur1)">
<rect x="598" y="178" width="96" height="110" fill="url(#gDTI)"/>
<circle cx="633.8" cy="260.7" r="1.6" fill="#7a7a7a" opacity="0.7"/>
<circle cx="679.3" cy="252.8" r="3.0" fill="#3a3a3a" opacity="0.7"/>
<circle cx="683.7" cy="210.4" r="1.8" fill="#2a2a2a" opacity="0.7"/>
<circle cx="607.4" cy="197.8" r="2.9" fill="#2a2a2a" opacity="0.7"/>
<circle cx="687.7" cy="210.4" r="2.0" fill="#606060" opacity="0.7"/>
<circle cx="627.8" cy="275.2" r="2.5" fill="#3a3a3a" opacity="0.7"/>
<circle cx="680.1" cy="281.0" r="1.9" fill="#7a7a7a" opacity="0.7"/>
<circle cx="675.9" cy="237.3" r="2.0" fill="#2a2a2a" opacity="0.7"/>
<circle cx="660.4" cy="254.3" r="1.5" fill="#3a3a3a" opacity="0.7"/>
<circle cx="684.2" cy="250.8" r="2.4" fill="#606060" opacity="0.7"/>
<circle cx="628.6" cy="221.6" r="2.7" fill="#7a7a7a" opacity="0.7"/>
<circle cx="668.9" cy="187.0" r="2.5" fill="#7a7a7a" opacity="0.7"/>
<circle cx="605.6" cy="279.5" r="2.7" fill="#606060" opacity="0.7"/>
<circle cx="625.4" cy="193.1" r="2.4" fill="#606060" opacity="0.7"/>
<circle cx="623.2" cy="232.3" r="3.2" fill="#7a7a7a" opacity="0.7"/>
<circle cx="668.8" cy="213.6" r="2.9" fill="#3a3a3a" opacity="0.7"/>
<circle cx="621.2" cy="270.0" r="2.4" fill="#2a2a2a" opacity="0.7"/>
<circle cx="603.4" cy="264.0" r="2.2" fill="#3a3a3a" opacity="0.7"/>
<circle cx="668.2" cy="250.1" r="1.5" fill="#606060" opacity="0.7"/>
<circle cx="622.1" cy="283.4" r="2.3" fill="#606060" opacity="0.7"/>
<circle cx="606.4" cy="240.2" r="3.0" fill="#606060" opacity="0.7"/>
<circle cx="655.9" cy="202.7" r="1.9" fill="#2a2a2a" opacity="0.7"/>
<circle cx="661.6" cy="267.7" r="1.6" fill="#3a3a3a" opacity="0.7"/>
<circle cx="641.1" cy="223.1" r="2.9" fill="#606060" opacity="0.7"/>
<circle cx="639.1" cy="238.8" r="2.8" fill="#3a3a3a" opacity="0.7"/>
<circle cx="606.3" cy="271.0" r="2.0" fill="#7a7a7a" opacity="0.7"/>
<circle cx="612.4" cy="221.0" r="1.9" fill="#606060" opacity="0.7"/>
<circle cx="631.4" cy="275.8" r="2.8" fill="#606060" opacity="0.7"/>
<circle cx="654.0" cy="265.8" r="2.2" fill="#2a2a2a" opacity="0.7"/>
<circle cx="617.8" cy="205.2" r="1.9" fill="#7a7a7a" opacity="0.7"/>
<circle cx="611.6" cy="269.0" r="2.7" fill="#606060" opacity="0.7"/>
<circle cx="624.8" cy="261.6" r="2.2" fill="#2a2a2a" opacity="0.7"/>
<circle cx="646.2" cy="216.1" r="3.0" fill="#3a3a3a" opacity="0.7"/>
<circle cx="643.4" cy="196.7" r="2.2" fill="#7a7a7a" opacity="0.7"/>
<circle cx="606.9" cy="243.4" r="2.0" fill="#606060" opacity="0.7"/>
<circle cx="649.7" cy="261.0" r="1.7" fill="#7a7a7a" opacity="0.7"/>
<circle cx="649.9" cy="242.5" r="2.8" fill="#606060" opacity="0.7"/>
<circle cx="613.7" cy="213.1" r="2.2" fill="#3a3a3a" opacity="0.7"/>
<circle cx="649.1" cy="269.4" r="3.2" fill="#606060" opacity="0.7"/>
<circle cx="667.3" cy="248.0" r="1.8" fill="#7a7a7a" opacity="0.7"/>
<circle cx="643.2" cy="236.6" r="2.9" fill="#7a7a7a" opacity="0.7"/>
<circle cx="638.9" cy="280.7" r="1.8" fill="#7a7a7a" opacity="0.7"/>
<circle cx="661.4" cy="241.7" r="2.9" fill="#3a3a3a" opacity="0.7"/>
<circle cx="680.4" cy="266.1" r="2.1" fill="#3a3a3a" opacity="0.7"/>
<circle cx="634.1" cy="259.9" r="2.7" fill="#3a3a3a" opacity="0.7"/>
<circle cx="676.9" cy="198.6" r="2.7" fill="#3a3a3a" opacity="0.7"/>
<circle cx="653.5" cy="217.4" r="3.0" fill="#2a2a2a" opacity="0.7"/>
<circle cx="667.7" cy="274.6" r="2.5" fill="#7a7a7a" opacity="0.7"/>
<circle cx="607.1" cy="184.0" r="1.6" fill="#606060" opacity="0.7"/>
<circle cx="651.3" cy="206.4" r="2.1" fill="#3a3a3a" opacity="0.7"/>
<circle cx="627.6" cy="187.4" r="2.0" fill="#2a2a2a" opacity="0.7"/>
<circle cx="607.1" cy="223.3" r="2.4" fill="#7a7a7a" opacity="0.7"/>
<circle cx="658.6" cy="217.2" r="2.4" fill="#3a3a3a" opacity="0.7"/>
<circle cx="687.2" cy="270.0" r="2.7" fill="#2a2a2a" opacity="0.7"/>
<circle cx="630.0" cy="207.5" r="3.0" fill="#3a3a3a" opacity="0.7"/>
<circle cx="682.7" cy="218.7" r="2.2" fill="#7a7a7a" opacity="0.7"/>
<circle cx="687.4" cy="254.6" r="2.6" fill="#7a7a7a" opacity="0.7"/>
<circle cx="682.7" cy="240.0" r="1.8" fill="#2a2a2a" opacity="0.7"/>
<circle cx="680.4" cy="210.7" r="1.8" fill="#7a7a7a" opacity="0.7"/>
<circle cx="631.7" cy="198.5" r="2.3" fill="#606060" opacity="0.7"/>
<circle cx="684.0" cy="210.4" r="2.1" fill="#606060" opacity="0.7"/>
<circle cx="686.6" cy="229.6" r="2.7" fill="#3a3a3a" opacity="0.7"/>
<circle cx="619.0" cy="224.4" r="2.4" fill="#2a2a2a" opacity="0.7"/>
<circle cx="602.8" cy="236.5" r="2.4" fill="#3a3a3a" opacity="0.7"/>
<circle cx="638.5" cy="234.2" r="2.7" fill="#3a3a3a" opacity="0.7"/>
<circle cx="644.6" cy="235.7" r="2.4" fill="#2a2a2a" opacity="0.7"/>
<circle cx="622.5" cy="252.2" r="3.2" fill="#606060" opacity="0.7"/>
<circle cx="667.7" cy="222.6" r="1.6" fill="#7a7a7a" opacity="0.7"/>
<circle cx="615.4" cy="243.6" r="2.2" fill="#3a3a3a" opacity="0.7"/>
<circle cx="685.6" cy="195.1" r="2.6" fill="#606060" opacity="0.7"/>
<circle cx="631.5" cy="208.7" r="2.0" fill="#2a2a2a" opacity="0.7"/>
<circle cx="603.6" cy="222.5" r="1.6" fill="#2a2a2a" opacity="0.7"/>
<circle cx="640.6" cy="279.4" r="2.3" fill="#3a3a3a" opacity="0.7"/>
<circle cx="669.4" cy="277.3" r="1.8" fill="#606060" opacity="0.7"/>
<circle cx="634.0" cy="198.6" r="2.0" fill="#606060" opacity="0.7"/>
<circle cx="679.0" cy="194.2" r="1.9" fill="#2a2a2a" opacity="0.7"/>
<circle cx="607.4" cy="204.1" r="1.6" fill="#3a3a3a" opacity="0.7"/>
<circle cx="620.5" cy="192.5" r="1.6" fill="#3a3a3a" opacity="0.7"/>
<circle cx="647.4" cy="187.9" r="1.6" fill="#7a7a7a" opacity="0.7"/>
<circle cx="614.9" cy="194.1" r="2.4" fill="#2a2a2a" opacity="0.7"/>
<line x1="671.8" y1="231.0" x2="684.0" y2="230.0" stroke="#b4b4b4" stroke-width="2.8" stroke-linecap="round" opacity="0.85"/>
<line x1="671.5" y1="242.0" x2="682.5" y2="245.8" stroke="#b4b4b4" stroke-width="2.8" stroke-linecap="round" opacity="0.85"/>
<line x1="666.0" y1="247.2" x2="680.0" y2="256.9" stroke="#b4b4b4" stroke-width="2.8" stroke-linecap="round" opacity="0.85"/>
<line x1="664.1" y1="255.0" x2="674.6" y2="267.4" stroke="#b4b4b4" stroke-width="2.8" stroke-linecap="round" opacity="0.85"/>
<line x1="659.3" y1="259.5" x2="667.4" y2="274.9" stroke="#b4b4b4" stroke-width="2.8" stroke-linecap="round" opacity="0.85"/>
<line x1="654.4" y1="260.7" x2="660.0" y2="277.6" stroke="#b4b4b4" stroke-width="2.8" stroke-linecap="round" opacity="0.85"/>
<line x1="646.9" y1="262.0" x2="647.8" y2="279.8" stroke="#b4b4b4" stroke-width="2.8" stroke-linecap="round" opacity="0.85"/>
<line x1="644.4" y1="258.9" x2="643.6" y2="279.4" stroke="#b4b4b4" stroke-width="2.8" stroke-linecap="round" opacity="0.85"/>
<line x1="636.5" y1="262.5" x2="632.2" y2="276.5" stroke="#b4b4b4" stroke-width="2.8" stroke-linecap="round" opacity="0.85"/>
<line x1="632.1" y1="254.5" x2="622.4" y2="270.1" stroke="#b4b4b4" stroke-width="2.8" stroke-linecap="round" opacity="0.85"/>
<line x1="627.7" y1="253.5" x2="615.9" y2="267.1" stroke="#b4b4b4" stroke-width="2.8" stroke-linecap="round" opacity="0.85"/>
<line x1="624.2" y1="248.0" x2="611.0" y2="257.3" stroke="#b4b4b4" stroke-width="2.8" stroke-linecap="round" opacity="0.85"/>
<line x1="620.3" y1="240.9" x2="607.2" y2="245.0" stroke="#b4b4b4" stroke-width="2.8" stroke-linecap="round" opacity="0.85"/>
<line x1="621.9" y1="233.0" x2="605.5" y2="232.9" stroke="#b4b4b4" stroke-width="2.8" stroke-linecap="round" opacity="0.85"/>
<line x1="621.9" y1="224.4" x2="609.7" y2="219.9" stroke="#b4b4b4" stroke-width="2.8" stroke-linecap="round" opacity="0.85"/>
<line x1="625.3" y1="220.6" x2="612.8" y2="212.8" stroke="#b4b4b4" stroke-width="2.8" stroke-linecap="round" opacity="0.85"/>
<line x1="625.0" y1="214.4" x2="615.9" y2="206.1" stroke="#b4b4b4" stroke-width="2.8" stroke-linecap="round" opacity="0.85"/>
<line x1="629.3" y1="209.2" x2="620.5" y2="196.1" stroke="#b4b4b4" stroke-width="2.8" stroke-linecap="round" opacity="0.85"/>
<line x1="637.4" y1="204.1" x2="633.1" y2="188.2" stroke="#b4b4b4" stroke-width="2.8" stroke-linecap="round" opacity="0.85"/>
<line x1="641.6" y1="202.9" x2="639.8" y2="189.1" stroke="#b4b4b4" stroke-width="2.8" stroke-linecap="round" opacity="0.85"/>
<line x1="647.4" y1="205.4" x2="648.9" y2="185.5" stroke="#b4b4b4" stroke-width="2.8" stroke-linecap="round" opacity="0.85"/>
<line x1="654.0" y1="207.2" x2="660.3" y2="188.0" stroke="#b4b4b4" stroke-width="2.8" stroke-linecap="round" opacity="0.85"/>
<line x1="658.9" y1="207.8" x2="666.8" y2="193.2" stroke="#b4b4b4" stroke-width="2.8" stroke-linecap="round" opacity="0.85"/>
<line x1="665.5" y1="213.0" x2="675.9" y2="202.5" stroke="#b4b4b4" stroke-width="2.8" stroke-linecap="round" opacity="0.85"/>
<line x1="669.4" y1="218.8" x2="681.3" y2="211.6" stroke="#b4b4b4" stroke-width="2.8" stroke-linecap="round" opacity="0.85"/>
<line x1="668.2" y1="227.8" x2="684.0" y2="224.1" stroke="#b4b4b4" stroke-width="2.8" stroke-linecap="round" opacity="0.85"/>
<path d="M624,198 Q616,230 622,262 M667,198 Q675,230 669,262" stroke="#a0a0a0" stroke-width="3" fill="none"/>
<path d="M630,203 L636.5,220 L628,242 M660.8,203 L654.3,220 L662.8,242" stroke="#dadada" stroke-width="4" fill="none" stroke-linejoin="round"/>
<path d="M624.5,200 Q620,222 623,245 M666.3,200 Q671,222 668,245" stroke="#8a8a8a" stroke-width="3" fill="none"/>
<path d="M645.4,212 L645.4,225" stroke="#c8c8c8" stroke-width="2.6"/>
<ellipse cx="639" cy="213" rx="3.5" ry="5" fill="#262626"/><ellipse cx="651.8" cy="213" rx="3.5" ry="5" fill="#262626"/>
<ellipse cx="645.4" cy="234" rx="10" ry="8" fill="#5a5a5a"/><rect x="633" y="245" width="25" height="4" fill="#2a2a2a"/>
<circle cx="645.4" cy="194" r="12" fill="none" stroke="#8e8e8e" stroke-width="2.6"/>
<path d="M632.7,198 Q634.5,206.5 645.4,206.5 Q656.3,206.5 658.1,198" stroke="#f2f2f2" stroke-width="4" fill="none" stroke-linecap="round"/>
<circle cx="645.4" cy="194" r="9.5" fill="#2e2e2e"/>
<path d="M629,260 Q630,244.5 645.4,244 Q661,244.5 662.5,260" stroke="#f4f4f4" stroke-width="4.4" fill="none" stroke-linecap="round"/>
<ellipse cx="645.4" cy="266" rx="14.5" ry="14" fill="#2a2a2a"/>
<circle cx="640" cy="270" r="3" fill="#444"/><circle cx="651" cy="268" r="3.5" fill="#3e3e3e"/><circle cx="646" cy="278" r="2.5" fill="#4a4a4a"/>
<path d="M623,260 Q625,279 638,285 M668,260 Q666,279 653,285" stroke="#9a9a9a" stroke-width="3" fill="none"/>
</g></g>
<rect x="830.8" y="174.6" width="116.9" height="113.0" fill="#050505"/>
<clipPath id="cpT1"><rect x="830.8" y="174.6" width="116.9" height="113.0"/></clipPath>
<clipPath id="cpL"><rect x="820" y="170" width="68.6" height="125"/></clipPath>
<clipPath id="cpR"><rect x="890.6" y="170" width="70" height="125"/></clipPath>
<g clip-path="url(#cpT1)"><g filter="url(#blur06)">
<path d="M945.8,234.0 L946.0,235.6 L946.1,237.3 L946.2,238.9 L946.4,240.6 L946.7,242.3 L946.9,244.0 L946.9,245.7 L946.8,247.4 L946.4,249.0 L945.7,250.6 L944.9,252.1 L944.7,253.8 L944.7,255.6 L944.3,257.3 L943.4,258.8 L942.3,260.1 L941.2,261.4 L940.4,262.9 L940.0,264.6 L939.6,266.4 L939.1,268.1 L938.4,269.7 L937.3,271.1 L936.0,272.3 L934.5,273.3 L933.0,274.2 L931.6,275.2 L930.4,276.4 L929.4,277.8 L928.3,279.2 L927.2,280.5 L925.9,281.6 L924.4,282.4 L922.9,283.3 L921.4,284.0 L919.7,284.5 L917.8,284.7 L916.0,284.8 L914.3,285.1 L912.8,285.7 L911.5,286.7 L910.1,287.8 L908.7,288.7 L907.2,289.3 L905.5,289.5 L903.7,289.3 L901.9,288.8 L900.2,288.3 L898.5,288.0 L897.0,288.3 L895.5,288.9 L894.0,289.7 L892.4,290.3 L890.8,290.5 L889.2,290.4 L887.6,290.2 L886.0,290.1 L884.4,289.8 L882.9,289.3 L881.3,288.9 L879.7,288.7 L878.1,288.7 L876.5,288.6 L875.0,288.1 L873.4,287.7 L871.8,287.6 L870.1,287.7 L868.3,287.8 L866.5,287.8 L864.7,287.6 L863.1,287.1 L861.5,286.5 L860.0,285.7 L858.6,284.7 L857.4,283.5 L856.1,282.4 L854.8,281.3 L853.3,280.6 L851.6,280.0 L849.9,279.3 L848.3,278.5 L846.9,277.5 L845.8,276.2 L844.8,274.8 L844.0,273.2 L843.1,271.7 L842.1,270.3 L840.9,269.1 L839.6,267.9 L838.4,266.6 L837.4,265.2 L836.6,263.7 L835.8,262.2 L835.2,260.5 L834.7,258.9 L834.5,257.1 L834.4,255.3 L834.5,253.5 L834.4,251.8 L833.9,250.2 L833.0,248.8 L832.1,247.3 L831.4,245.7 L831.0,244.1 L830.7,242.4 L830.5,240.7 L830.4,239.1 L830.4,237.4 L830.4,235.7 L830.7,234.0 L831.0,232.3 L831.5,230.7 L831.9,229.1 L832.3,227.5 L832.4,225.8 L832.6,224.2 L832.5,222.5 L832.4,220.8 L832.5,219.1 L833.2,217.6 L834.2,216.1 L835.0,214.7 L835.4,213.1 L835.4,211.3 L835.4,209.4 L835.8,207.7 L836.6,206.2 L837.5,204.8 L838.2,203.3 L838.8,201.6 L839.3,199.9 L840.2,198.4 L841.3,197.1 L842.4,195.7 L843.3,194.2 L844.2,192.7 L845.3,191.3 L846.6,190.2 L848.1,189.2 L849.8,188.5 L851.5,187.9 L853.1,187.2 L854.4,186.2 L855.6,184.9 L856.9,183.7 L858.4,182.8 L860.1,182.5 L861.8,182.1 L863.3,181.3 L864.8,180.6 L866.4,180.2 L868.1,179.9 L869.8,179.6 L871.5,179.4 L873.1,179.3 L874.7,178.7 L876.1,177.8 L877.7,177.3 L879.4,177.5 L881.1,177.9 L882.8,178.1 L884.4,177.7 L885.9,177.1 L887.6,176.5 L889.2,176.2 L890.9,176.1 L892.5,176.0 L894.2,176.1 L895.8,176.3 L897.4,176.9 L899.0,177.5 L900.6,177.9 L902.2,178.2 L903.8,178.4 L905.5,178.4 L907.3,178.4 L909.0,178.5 L910.6,179.0 L912.1,179.7 L913.6,180.6 L915.0,181.6 L916.4,182.4 L918.0,183.0 L919.7,183.4 L921.5,183.8 L923.2,184.3 L924.9,184.9 L926.5,185.7 L927.9,186.7 L929.2,187.8 L930.3,189.2 L931.3,190.7 L932.2,192.2 L933.2,193.6 L934.4,194.9 L935.7,196.0 L937.0,197.2 L938.2,198.4 L939.4,199.7 L940.4,201.1 L941.2,202.6 L942.0,204.2 L942.5,205.9 L942.9,207.6 L943.1,209.4 L943.1,211.2 L943.2,213.0 L943.5,214.6 L944.1,216.2 L944.9,217.6 L945.7,219.1 L946.4,220.7 L946.7,222.4 L946.5,224.1 L945.9,225.8 L945.1,227.6 L944.6,229.2 L944.7,230.8 L945.3,232.4Z" fill="#8c5c5c"/>
<path d="M928.9,234.0 L930.5,235.2 L931.0,236.4 L932.1,237.7 L934.3,239.2 L936.9,240.9 L939.1,242.6 L940.3,244.3 L940.6,246.0 L939.7,247.3 L936.7,248.0 L933.6,248.4 L934.2,250.1 L937.0,252.6 L937.4,254.4 L934.8,254.8 L931.0,254.6 L927.8,254.4 L926.8,255.3 L928.3,257.6 L930.9,260.8 L932.9,263.9 L933.3,266.1 L932.1,267.1 L929.4,266.9 L926.0,265.9 L922.6,264.7 L920.3,264.3 L919.7,265.4 L920.3,267.9 L921.3,271.0 L921.8,273.8 L921.2,275.4 L919.5,275.8 L918.1,276.2 L916.7,276.7 L914.3,275.6 L911.1,272.7 L907.9,269.5 L905.9,267.9 L905.2,269.0 L905.5,272.6 L906.0,277.1 L906.0,281.0 L905.1,283.0 L903.4,282.4 L901.1,279.4 L898.6,274.6 L896.5,269.9 L895.0,267.4 L894.1,268.2 L893.6,272.0 L892.9,276.8 L891.9,280.5 L890.6,281.8 L889.2,280.8 L887.9,279.8 L886.6,279.5 L885.4,277.7 L884.5,274.5 L883.7,272.3 L882.6,272.1 L881.3,273.0 L880.1,273.0 L879.3,271.6 L878.5,270.4 L877.1,271.1 L875.0,273.9 L872.4,277.3 L869.8,279.9 L867.7,281.2 L865.9,281.3 L864.6,280.7 L863.7,279.2 L863.5,276.7 L863.9,273.4 L864.4,270.3 L864.1,268.5 L862.5,268.7 L859.5,270.3 L856.2,272.1 L853.4,273.0 L851.6,272.7 L851.0,271.1 L851.6,268.5 L852.8,265.5 L853.6,263.1 L853.0,261.9 L850.7,262.0 L847.7,262.4 L845.0,262.4 L843.2,261.7 L842.2,260.6 L841.6,259.1 L841.4,257.5 L841.8,255.7 L843.3,253.4 L846.1,250.8 L849.5,248.2 L851.2,246.4 L849.6,245.6 L845.5,245.5 L841.2,245.2 L838.1,244.4 L836.3,243.2 L835.2,241.8 L834.4,240.3 L834.0,238.7 L834.2,237.1 L834.9,235.6 L836.4,234.0 L838.7,232.6 L841.7,231.3 L844.5,230.2 L846.2,229.1 L846.8,227.9 L846.8,226.7 L845.4,225.1 L843.0,223.3 L842.5,221.7 L845.4,221.1 L849.8,221.2 L853.1,221.1 L853.2,220.0 L850.4,217.6 L847.2,214.8 L846.1,212.8 L847.4,211.9 L849.3,211.5 L849.9,210.3 L848.9,208.1 L847.5,205.5 L847.6,203.8 L849.3,203.3 L850.5,202.4 L850.1,200.1 L849.6,197.6 L850.2,196.1 L851.7,195.5 L854.3,195.9 L857.7,197.6 L861.2,199.7 L863.6,200.8 L864.2,199.5 L863.4,196.3 L862.9,193.1 L864.0,192.2 L866.8,194.3 L869.0,195.8 L869.6,194.2 L870.2,192.4 L871.7,192.7 L873.6,193.8 L875.1,194.5 L876.6,195.2 L878.1,196.1 L878.7,194.1 L878.8,189.4 L879.7,187.2 L881.5,189.5 L883.3,193.2 L884.7,194.8 L885.7,193.0 L886.6,189.0 L887.8,185.4 L889.2,183.2 L890.7,182.3 L892.2,182.0 L893.7,182.1 L895.0,183.3 L896.1,186.3 L896.9,189.6 L897.9,191.2 L899.0,191.8 L900.3,192.0 L901.9,190.7 L904.0,188.5 L906.0,187.0 L907.3,187.4 L907.9,189.6 L908.0,192.8 L908.0,195.7 L908.5,197.4 L909.9,197.4 L912.2,195.9 L915.0,193.9 L917.9,192.1 L920.4,191.0 L922.5,190.8 L924.0,191.5 L924.6,193.1 L924.4,195.7 L923.4,198.8 L922.4,201.7 L922.2,203.8 L923.2,204.6 L925.4,204.4 L928.2,203.9 L930.9,203.7 L933.0,204.0 L934.5,204.9 L935.5,206.1 L935.8,207.7 L935.5,209.6 L934.2,211.9 L931.9,214.5 L928.9,217.2 L926.5,219.5 L925.9,220.9 L927.7,221.5 L931.2,221.7 L934.9,222.0 L937.6,222.8 L938.2,224.1 L936.2,225.9 L931.5,227.9 L925.6,229.8 L921.6,231.2 L921.9,232.1 L925.4,233.0Z" fill="none" stroke="#b68c88" stroke-width="6" stroke-linejoin="round" opacity="0.85"/>
<g clip-path="url(#cpL)"><path d="M928.9,234.0 L930.5,235.2 L931.0,236.4 L932.1,237.7 L934.3,239.2 L936.9,240.9 L939.1,242.6 L940.3,244.3 L940.6,246.0 L939.7,247.3 L936.7,248.0 L933.6,248.4 L934.2,250.1 L937.0,252.6 L937.4,254.4 L934.8,254.8 L931.0,254.6 L927.8,254.4 L926.8,255.3 L928.3,257.6 L930.9,260.8 L932.9,263.9 L933.3,266.1 L932.1,267.1 L929.4,266.9 L926.0,265.9 L922.6,264.7 L920.3,264.3 L919.7,265.4 L920.3,267.9 L921.3,271.0 L921.8,273.8 L921.2,275.4 L919.5,275.8 L918.1,276.2 L916.7,276.7 L914.3,275.6 L911.1,272.7 L907.9,269.5 L905.9,267.9 L905.2,269.0 L905.5,272.6 L906.0,277.1 L906.0,281.0 L905.1,283.0 L903.4,282.4 L901.1,279.4 L898.6,274.6 L896.5,269.9 L895.0,267.4 L894.1,268.2 L893.6,272.0 L892.9,276.8 L891.9,280.5 L890.6,281.8 L889.2,280.8 L887.9,279.8 L886.6,279.5 L885.4,277.7 L884.5,274.5 L883.7,272.3 L882.6,272.1 L881.3,273.0 L880.1,273.0 L879.3,271.6 L878.5,270.4 L877.1,271.1 L875.0,273.9 L872.4,277.3 L869.8,279.9 L867.7,281.2 L865.9,281.3 L864.6,280.7 L863.7,279.2 L863.5,276.7 L863.9,273.4 L864.4,270.3 L864.1,268.5 L862.5,268.7 L859.5,270.3 L856.2,272.1 L853.4,273.0 L851.6,272.7 L851.0,271.1 L851.6,268.5 L852.8,265.5 L853.6,263.1 L853.0,261.9 L850.7,262.0 L847.7,262.4 L845.0,262.4 L843.2,261.7 L842.2,260.6 L841.6,259.1 L841.4,257.5 L841.8,255.7 L843.3,253.4 L846.1,250.8 L849.5,248.2 L851.2,246.4 L849.6,245.6 L845.5,245.5 L841.2,245.2 L838.1,244.4 L836.3,243.2 L835.2,241.8 L834.4,240.3 L834.0,238.7 L834.2,237.1 L834.9,235.6 L836.4,234.0 L838.7,232.6 L841.7,231.3 L844.5,230.2 L846.2,229.1 L846.8,227.9 L846.8,226.7 L845.4,225.1 L843.0,223.3 L842.5,221.7 L845.4,221.1 L849.8,221.2 L853.1,221.1 L853.2,220.0 L850.4,217.6 L847.2,214.8 L846.1,212.8 L847.4,211.9 L849.3,211.5 L849.9,210.3 L848.9,208.1 L847.5,205.5 L847.6,203.8 L849.3,203.3 L850.5,202.4 L850.1,200.1 L849.6,197.6 L850.2,196.1 L851.7,195.5 L854.3,195.9 L857.7,197.6 L861.2,199.7 L863.6,200.8 L864.2,199.5 L863.4,196.3 L862.9,193.1 L864.0,192.2 L866.8,194.3 L869.0,195.8 L869.6,194.2 L870.2,192.4 L871.7,192.7 L873.6,193.8 L875.1,194.5 L876.6,195.2 L878.1,196.1 L878.7,194.1 L878.8,189.4 L879.7,187.2 L881.5,189.5 L883.3,193.2 L884.7,194.8 L885.7,193.0 L886.6,189.0 L887.8,185.4 L889.2,183.2 L890.7,182.3 L892.2,182.0 L893.7,182.1 L895.0,183.3 L896.1,186.3 L896.9,189.6 L897.9,191.2 L899.0,191.8 L900.3,192.0 L901.9,190.7 L904.0,188.5 L906.0,187.0 L907.3,187.4 L907.9,189.6 L908.0,192.8 L908.0,195.7 L908.5,197.4 L909.9,197.4 L912.2,195.9 L915.0,193.9 L917.9,192.1 L920.4,191.0 L922.5,190.8 L924.0,191.5 L924.6,193.1 L924.4,195.7 L923.4,198.8 L922.4,201.7 L922.2,203.8 L923.2,204.6 L925.4,204.4 L928.2,203.9 L930.9,203.7 L933.0,204.0 L934.5,204.9 L935.5,206.1 L935.8,207.7 L935.5,209.6 L934.2,211.9 L931.9,214.5 L928.9,217.2 L926.5,219.5 L925.9,220.9 L927.7,221.5 L931.2,221.7 L934.9,222.0 L937.6,222.8 L938.2,224.1 L936.2,225.9 L931.5,227.9 L925.6,229.8 L921.6,231.2 L921.9,232.1 L925.4,233.0Z" fill="#b3e3a0" stroke="#e4e0b0" stroke-width="1.8"/></g>
<g clip-path="url(#cpR)"><path d="M928.9,234.0 L930.5,235.2 L931.0,236.4 L932.1,237.7 L934.3,239.2 L936.9,240.9 L939.1,242.6 L940.3,244.3 L940.6,246.0 L939.7,247.3 L936.7,248.0 L933.6,248.4 L934.2,250.1 L937.0,252.6 L937.4,254.4 L934.8,254.8 L931.0,254.6 L927.8,254.4 L926.8,255.3 L928.3,257.6 L930.9,260.8 L932.9,263.9 L933.3,266.1 L932.1,267.1 L929.4,266.9 L926.0,265.9 L922.6,264.7 L920.3,264.3 L919.7,265.4 L920.3,267.9 L921.3,271.0 L921.8,273.8 L921.2,275.4 L919.5,275.8 L918.1,276.2 L916.7,276.7 L914.3,275.6 L911.1,272.7 L907.9,269.5 L905.9,267.9 L905.2,269.0 L905.5,272.6 L906.0,277.1 L906.0,281.0 L905.1,283.0 L903.4,282.4 L901.1,279.4 L898.6,274.6 L896.5,269.9 L895.0,267.4 L894.1,268.2 L893.6,272.0 L892.9,276.8 L891.9,280.5 L890.6,281.8 L889.2,280.8 L887.9,279.8 L886.6,279.5 L885.4,277.7 L884.5,274.5 L883.7,272.3 L882.6,272.1 L881.3,273.0 L880.1,273.0 L879.3,271.6 L878.5,270.4 L877.1,271.1 L875.0,273.9 L872.4,277.3 L869.8,279.9 L867.7,281.2 L865.9,281.3 L864.6,280.7 L863.7,279.2 L863.5,276.7 L863.9,273.4 L864.4,270.3 L864.1,268.5 L862.5,268.7 L859.5,270.3 L856.2,272.1 L853.4,273.0 L851.6,272.7 L851.0,271.1 L851.6,268.5 L852.8,265.5 L853.6,263.1 L853.0,261.9 L850.7,262.0 L847.7,262.4 L845.0,262.4 L843.2,261.7 L842.2,260.6 L841.6,259.1 L841.4,257.5 L841.8,255.7 L843.3,253.4 L846.1,250.8 L849.5,248.2 L851.2,246.4 L849.6,245.6 L845.5,245.5 L841.2,245.2 L838.1,244.4 L836.3,243.2 L835.2,241.8 L834.4,240.3 L834.0,238.7 L834.2,237.1 L834.9,235.6 L836.4,234.0 L838.7,232.6 L841.7,231.3 L844.5,230.2 L846.2,229.1 L846.8,227.9 L846.8,226.7 L845.4,225.1 L843.0,223.3 L842.5,221.7 L845.4,221.1 L849.8,221.2 L853.1,221.1 L853.2,220.0 L850.4,217.6 L847.2,214.8 L846.1,212.8 L847.4,211.9 L849.3,211.5 L849.9,210.3 L848.9,208.1 L847.5,205.5 L847.6,203.8 L849.3,203.3 L850.5,202.4 L850.1,200.1 L849.6,197.6 L850.2,196.1 L851.7,195.5 L854.3,195.9 L857.7,197.6 L861.2,199.7 L863.6,200.8 L864.2,199.5 L863.4,196.3 L862.9,193.1 L864.0,192.2 L866.8,194.3 L869.0,195.8 L869.6,194.2 L870.2,192.4 L871.7,192.7 L873.6,193.8 L875.1,194.5 L876.6,195.2 L878.1,196.1 L878.7,194.1 L878.8,189.4 L879.7,187.2 L881.5,189.5 L883.3,193.2 L884.7,194.8 L885.7,193.0 L886.6,189.0 L887.8,185.4 L889.2,183.2 L890.7,182.3 L892.2,182.0 L893.7,182.1 L895.0,183.3 L896.1,186.3 L896.9,189.6 L897.9,191.2 L899.0,191.8 L900.3,192.0 L901.9,190.7 L904.0,188.5 L906.0,187.0 L907.3,187.4 L907.9,189.6 L908.0,192.8 L908.0,195.7 L908.5,197.4 L909.9,197.4 L912.2,195.9 L915.0,193.9 L917.9,192.1 L920.4,191.0 L922.5,190.8 L924.0,191.5 L924.6,193.1 L924.4,195.7 L923.4,198.8 L922.4,201.7 L922.2,203.8 L923.2,204.6 L925.4,204.4 L928.2,203.9 L930.9,203.7 L933.0,204.0 L934.5,204.9 L935.5,206.1 L935.8,207.7 L935.5,209.6 L934.2,211.9 L931.9,214.5 L928.9,217.2 L926.5,219.5 L925.9,220.9 L927.7,221.5 L931.2,221.7 L934.9,222.0 L937.6,222.8 L938.2,224.1 L936.2,225.9 L931.5,227.9 L925.6,229.8 L921.6,231.2 L921.9,232.1 L925.4,233.0Z" fill="#eee8ec" stroke="#efe6c4" stroke-width="1.8"/></g>
<path d="M951.6,238.2 L945.6,237.7 L939.5,238.0 L933.5,237.0" fill="none" stroke="#140606" stroke-width="2.9" stroke-linecap="round" stroke-linejoin="round"/>
<path d="M945.6,265.3 L940.5,260.6 L934.7,257.0 L927.9,255.5" fill="none" stroke="#140606" stroke-width="2.6" stroke-linecap="round" stroke-linejoin="round"/>
<path d="M949.6,254.3 L945.6,251.8 L940.5,252.7 L936.6,250.0" fill="none" stroke="#140606" stroke-width="2.9" stroke-linecap="round" stroke-linejoin="round"/>
<path d="M935.4,279.4 L930.2,274.9 L925.5,270.0 L920.7,265.0" fill="none" stroke="#140606" stroke-width="2.9" stroke-linecap="round" stroke-linejoin="round"/>
<path d="M916.6,290.9 L914.5,283.0 L909.8,276.3 L906.1,269.1" fill="none" stroke="#140606" stroke-width="2.4" stroke-linecap="round" stroke-linejoin="round"/>
<path d="M926.1,286.5 L922.3,284.6 L923.4,279.3 L919.7,277.4" fill="none" stroke="#140606" stroke-width="3.0" stroke-linecap="round" stroke-linejoin="round"/>
<path d="M899.4,294.6 L899.7,285.5 L895.8,277.2 L895.0,268.4" fill="none" stroke="#140606" stroke-width="2.5" stroke-linecap="round" stroke-linejoin="round"/>
<path d="M880.2,294.7 L881.7,287.6 L881.1,280.1 L883.4,273.1" fill="none" stroke="#140606" stroke-width="2.2" stroke-linecap="round" stroke-linejoin="round"/>
<path d="M888.0,295.0 L890.1,291.3 L886.4,287.6 L888.2,284.0" fill="none" stroke="#140606" stroke-width="2.7" stroke-linecap="round" stroke-linejoin="round"/>
<path d="M871.1,293.5 L875.0,286.9 L873.6,278.7 L877.5,272.2" fill="none" stroke="#140606" stroke-width="3.1" stroke-linecap="round" stroke-linejoin="round"/>
<path d="M851.2,285.9 L856.7,281.5 L859.5,275.2 L863.2,269.5" fill="none" stroke="#140606" stroke-width="2.3" stroke-linecap="round" stroke-linejoin="round"/>
<path d="M838.4,274.3 L843.7,271.2 L847.5,266.4 L852.6,263.1" fill="none" stroke="#140606" stroke-width="2.4" stroke-linecap="round" stroke-linejoin="round"/>
<path d="M828.6,253.4 L835.4,250.3 L843.2,250.6 L849.7,246.7" fill="none" stroke="#140606" stroke-width="2.4" stroke-linecap="round" stroke-linejoin="round"/>
<path d="M826.9,226.7 L832.9,225.9 L838.6,228.4 L844.5,228.7" fill="none" stroke="#140606" stroke-width="2.6" stroke-linecap="round" stroke-linejoin="round"/>
<path d="M829.4,211.4 L837.5,214.0 L845.3,217.5 L853.4,220.5" fill="none" stroke="#140606" stroke-width="2.6" stroke-linecap="round" stroke-linejoin="round"/>
<path d="M827.3,221.9 L830.6,224.8 L834.9,222.3 L838.4,224.0" fill="none" stroke="#140606" stroke-width="3.2" stroke-linecap="round" stroke-linejoin="round"/>
<path d="M833.2,201.3 L839.5,202.4 L843.9,206.8 L848.7,210.4" fill="none" stroke="#140606" stroke-width="2.6" stroke-linecap="round" stroke-linejoin="round"/>
<path d="M849.8,182.2 L853.7,188.4 L859.2,193.3 L863.0,199.5" fill="none" stroke="#140606" stroke-width="2.9" stroke-linecap="round" stroke-linejoin="round"/>
<path d="M838.4,193.0 L840.2,196.9 L843.6,198.7 L847.3,200.2" fill="none" stroke="#140606" stroke-width="2.6" stroke-linecap="round" stroke-linejoin="round"/>
<path d="M867.9,174.3 L870.1,180.5 L873.5,186.4 L874.6,193.1" fill="none" stroke="#140606" stroke-width="2.7" stroke-linecap="round" stroke-linejoin="round"/>
<path d="M859.0,177.2 L859.1,182.2 L864.4,184.3 L865.2,188.9" fill="none" stroke="#140606" stroke-width="2.6" stroke-linecap="round" stroke-linejoin="round"/>
<path d="M881.9,172.2 L882.9,179.3 L882.6,186.6 L884.5,193.6" fill="none" stroke="#140606" stroke-width="2.6" stroke-linecap="round" stroke-linejoin="round"/>
<path d="M872.7,173.2 L873.3,177.7 L876.2,181.7 L876.2,186.3" fill="none" stroke="#140606" stroke-width="2.3" stroke-linecap="round" stroke-linejoin="round"/>
<path d="M905.3,173.2 L903.9,179.7 L900.7,185.7 L900.2,192.4" fill="none" stroke="#140606" stroke-width="2.9" stroke-linecap="round" stroke-linejoin="round"/>
<path d="M899.9,172.4 L897.1,175.8 L897.6,179.7 L897.9,183.6" fill="none" stroke="#140606" stroke-width="2.5" stroke-linecap="round" stroke-linejoin="round"/>
<path d="M919.6,177.3 L916.7,183.9 L911.2,189.1 L909.4,196.3" fill="none" stroke="#140606" stroke-width="2.7" stroke-linecap="round" stroke-linejoin="round"/>
<path d="M937.6,190.1 L931.8,193.5 L927.3,198.2 L923.1,203.3" fill="none" stroke="#140606" stroke-width="2.7" stroke-linecap="round" stroke-linejoin="round"/>
<path d="M949.4,212.6 L942.5,217.2 L934.3,217.8 L926.8,220.6" fill="none" stroke="#140606" stroke-width="3.2" stroke-linecap="round" stroke-linejoin="round"/>
<path d="M951.6,229.0 L942.5,228.3 L933.7,232.0 L924.6,231.2" fill="none" stroke="#140606" stroke-width="2.6" stroke-linecap="round" stroke-linejoin="round"/>
<path d="M889.4,176 L889.4,222" stroke="#2a1414" stroke-width="2.2"/>
<path d="M886,178 L886,222 M893,178 L893,222" stroke="#8e5e5e" stroke-width="2.5"/>
<path d="M873,221 Q880,219 888,224 L888.6,235 Q882,236 877,233 Q872,228 873,221 Z" fill="#45175a"/>
<path d="M906,221 Q899,219 891,224 L890.4,235 Q897,236 902,233 Q907,228 906,221 Z" fill="#45175a"/>
<path d="M871,225 L874,232 M908,225 L905,232" stroke="#9a8ab0" stroke-width="1.5"/>
<path d="M888,224 L889.5,238 L891,224" stroke="#d8c24a" stroke-width="1" fill="none"/>
<path d="M876,236 Q889,232 903,236 L905,247 Q897,254 889.5,255 Q882,254 874,247 Z" fill="#95b294"/>
<path d="M889.5,238 L889.5,256" stroke="#6a8a60" stroke-width="1.2"/>
<path d="M864,237 L870,240 L872,252 L866,255 L861,248 Z" fill="#c99ad4"/>
<path d="M913,237 L907,240 L905,252 L911,256 L917,249 Z" fill="#b7a2de"/>
<path d="M867,242 L867,250 M910,242 L910,251" stroke="#9aa4e8" stroke-width="2"/>
<ellipse cx="866" cy="265" rx="8" ry="5.5" fill="#9b983e"/>
<ellipse cx="912" cy="265" rx="8" ry="5.5" fill="#a8a53c"/>
<ellipse cx="864" cy="262" rx="4" ry="2" fill="#6a4a6a" opacity="0.7"/>
<path d="M879,256 Q889.5,253 900,256 L902,266 Q905,276 900,290 L878,290 Q874,276 877,266 Z" fill="#1a1a1a"/>
<path d="M872,282 Q889,276 906,282 L906,290 L872,290 Z" fill="#0e0e0e"/>
<ellipse cx="894" cy="266" rx="4" ry="5" fill="#3a3a3a"/>
<circle cx="886" cy="273" r="3.4" fill="#c4c4c4"/>
<path d="M866,286 l6,-5 M899,283 l5,3 M893,261 l3,3 M875,262 l3,2" stroke="#d4d4d4" stroke-width="1.6"/>
</g></g>
<rect x="16.6" y="53.2" width="244.80" height="83.00" rx="12" ry="12" fill="none" stroke="#8e8e8e" stroke-width="1.6"/>
<rect x="268.0" y="53.2" width="243.20" height="83.00" rx="12" ry="12" fill="none" stroke="#8e8e8e" stroke-width="1.6"/>
<rect x="517.2" y="53.2" width="244.00" height="83.00" rx="12" ry="12" fill="none" stroke="#8e8e8e" stroke-width="1.6"/>
<rect x="767.6" y="53.2" width="244.20" height="83.00" rx="12" ry="12" fill="none" stroke="#8e8e8e" stroke-width="1.6"/>
<rect x="17.8" y="155.0" width="242.80" height="245.80" rx="23" ry="23" fill="none" stroke="#8e8e8e" stroke-width="1.6"/>
<rect x="267.9" y="154.8" width="243.10" height="246.40" rx="23" ry="23" fill="none" stroke="#8e8e8e" stroke-width="1.6"/>
<rect x="518.3" y="154.8" width="244.30" height="245.80" rx="23" ry="23" fill="none" stroke="#8e8e8e" stroke-width="1.6"/>
<rect x="767.6" y="154.6" width="244.20" height="246.20" rx="22" ry="22" fill="none" stroke="#8e8e8e" stroke-width="1.6"/>
<rect x="271.8" y="512.0" width="241.70" height="44.60" rx="15" ry="15" fill="none" stroke="#8e8e8e" stroke-width="1.6"/>
<rect x="522.3" y="512.0" width="239.00" height="44.00" rx="15" ry="15" fill="none" stroke="#8e8e8e" stroke-width="1.6"/>
<rect x="269.4" y="562.0" width="244.00" height="246.50" rx="23" ry="23" fill="none" stroke="#8e8e8e" stroke-width="1.6"/>
<rect x="522.2" y="562.4" width="244.10" height="246.20" rx="24" ry="24" fill="none" stroke="#8e8e8e" stroke-width="1.6"/>
<text x="39.00" y="24.00" font-size="16.6" textLength="196.77" lengthAdjust="spacingAndGlyphs" fill="#161616" stroke="#161616" stroke-width="0.3">ACTION OBSERVATION</text>
<text x="68.70" y="44.60" font-size="16.6" textLength="142.83" lengthAdjust="spacingAndGlyphs" fill="#161616" stroke="#161616" stroke-width="0.3">NETWORK (AON)</text>
<text x="268.90" y="25.40" font-size="16.6" textLength="245.80" lengthAdjust="spacingAndGlyphs" fill="#161616" stroke="#161616" stroke-width="0.3">FUNCTIONAL CONNECTIIVTY</text>
<text x="377.30" y="45.20" font-size="16.6" textLength="34.59" lengthAdjust="spacingAndGlyphs" fill="#161616" stroke="#161616" stroke-width="0.3">(FC)</text>
<text x="581.70" y="23.90" font-size="16.6" textLength="116.86" lengthAdjust="spacingAndGlyphs" fill="#161616" stroke="#161616" stroke-width="0.3">STRUCTURAL</text>
<text x="578.10" y="44.70" font-size="16.6" textLength="129.30" lengthAdjust="spacingAndGlyphs" fill="#161616" stroke="#161616" stroke-width="0.3">CONNECTIVITY</text>
<text x="787.50" y="29.00" font-size="16.6" textLength="197.72" lengthAdjust="spacingAndGlyphs" fill="#161616" stroke="#161616" stroke-width="0.3">BRAIN MORPHOMETRY</text>
<text x="50.00" y="77.70" font-size="15.6" textLength="176.16" lengthAdjust="spacingAndGlyphs" fill="#161616" stroke="#161616" stroke-width="0.3">Can we reproduce AON?</text>
<text x="27.00" y="96.00" font-size="15.6" textLength="221.52" lengthAdjust="spacingAndGlyphs" fill="#161616" stroke="#161616" stroke-width="0.3">Dancers: more AON activation?</text>
<text x="44.60" y="119.40" font-size="9.6" textLength="187.46" lengthAdjust="spacingAndGlyphs" fill="#222" stroke="#222" stroke-width="0.2" font-style="italic">Cross et al., 2006; Calvo-Merino et al., 2006</text>
<text x="285.80" y="76.30" font-size="15.6" textLength="208.18" lengthAdjust="spacingAndGlyphs" fill="#161616" stroke="#161616" stroke-width="0.3">Do Dancers have altered FC?</text>
<text x="361.50" y="108.90" font-size="9.6" textLength="57.25" lengthAdjust="spacingAndGlyphs" fill="#222" stroke="#222" stroke-width="0.2" font-style="italic">Li et al., 2015</text>
<text x="541.60" y="73.70" font-size="15.6" textLength="189.29" lengthAdjust="spacingAndGlyphs" fill="#161616" stroke="#161616" stroke-width="0.3">Do Dancers have lower FA</text>
<text x="564.50" y="92.00" font-size="15.6" textLength="147.17" lengthAdjust="spacingAndGlyphs" fill="#161616" stroke="#161616" stroke-width="0.3">in corticospinal tract?</text>
<text x="541.10" y="111.20" font-size="9.6" textLength="169.90" lengthAdjust="spacingAndGlyphs" fill="#222" stroke="#222" stroke-width="0.2" font-style="italic">Giacosa et al. 2016; Hänggi et al., 2010;</text>
<text x="598.50" y="121.80" font-size="9.6" textLength="80.91" lengthAdjust="spacingAndGlyphs" fill="#222" stroke="#222" stroke-width="0.2" font-style="italic">Huang et al., 2015;</text>
<text x="784.50" y="73.70" font-size="15.6" textLength="199.92" lengthAdjust="spacingAndGlyphs" fill="#161616" stroke="#161616" stroke-width="0.3">Do Dancers with normal BMI</text>
<text x="794.60" y="91.80" font-size="15.6" textLength="178.11" lengthAdjust="spacingAndGlyphs" fill="#161616" stroke="#161616" stroke-width="0.3">have lower brain volume?</text>
<text x="845.00" y="114.80" font-size="9.6" textLength="80.10" lengthAdjust="spacingAndGlyphs" fill="#222" stroke="#222" stroke-width="0.2" font-style="italic">Hänggi et al., 2010</text>
<text x="41.60" y="299.60" font-size="15.2" textLength="70.70" lengthAdjust="spacingAndGlyphs" fill="#161616" stroke="#161616" stroke-width="0.3">Task fMRI</text>
<text x="41.70" y="336.10" font-size="14.6" textLength="91.92" lengthAdjust="spacingAndGlyphs" fill="#161616" stroke="#161616" stroke-width="0.3">Viewing dance</text>
<text x="41.70" y="352.80" font-size="14.6" textLength="72.28" lengthAdjust="spacingAndGlyphs" fill="#161616" stroke="#161616" stroke-width="0.3">vs. animate</text>
<text x="41.70" y="371.00" font-size="14.6" textLength="74.90" lengthAdjust="spacingAndGlyphs" fill="#161616" stroke="#161616" stroke-width="0.3">motion clips</text>
<text x="326.80" y="321.00" font-size="15.0" textLength="129.20" lengthAdjust="spacingAndGlyphs" fill="#161616" stroke="#161616" stroke-width="0.3">Resting state fMRI</text>
<text x="328.80" y="344.60" font-size="14.6" textLength="176.62" lengthAdjust="spacingAndGlyphs" fill="#161616" stroke="#161616" stroke-width="0.3">Action Observation Network</text>
<text x="328.80" y="379.60" font-size="14.6" textLength="144.55" lengthAdjust="spacingAndGlyphs" fill="#161616" stroke="#161616" stroke-width="0.3">Motor learning network</text>
<text x="328.20" y="390.60" font-size="8.0" textLength="73.88" lengthAdjust="spacingAndGlyphs" fill="#222" stroke="#222" stroke-width="0.2" font-style="italic">Hardwick et al., 2013</text>
<text x="524.80" y="308.30" font-size="15.0" textLength="215.29" lengthAdjust="spacingAndGlyphs" fill="#161616" stroke="#161616" stroke-width="0.3">Diffusion Tensor Imaging (DTI)</text>
<text x="531.60" y="326.60" font-size="15.0" textLength="201.87" lengthAdjust="spacingAndGlyphs" fill="#161616" stroke="#161616" stroke-width="0.3">Fractional anisotropy (FA) in:</text>
<text x="556.50" y="351.50" font-size="14.6" textLength="120.10" lengthAdjust="spacingAndGlyphs" fill="#161616" stroke="#161616" stroke-width="0.3">cerebral peduncles</text>
<text x="556.50" y="369.30" font-size="14.6" textLength="199.71" lengthAdjust="spacingAndGlyphs" fill="#161616" stroke="#161616" stroke-width="0.3">internal capsule (posterior limb)</text>
<text x="556.50" y="386.40" font-size="14.6" textLength="90.28" lengthAdjust="spacingAndGlyphs" fill="#161616" stroke="#161616" stroke-width="0.3">corona radiata</text>
<text x="792.90" y="309.80" font-size="15.0" textLength="188.99" lengthAdjust="spacingAndGlyphs" fill="#161616" stroke="#161616" stroke-width="0.3">T1-weighted structural MRI</text>
<text x="813.90" y="337.30" font-size="14.6" textLength="108.28" lengthAdjust="spacingAndGlyphs" fill="#161616" stroke="#161616" stroke-width="0.3">cortical thickness</text>
<text x="813.90" y="355.10" font-size="14.6" textLength="127.58" lengthAdjust="spacingAndGlyphs" fill="#161616" stroke="#161616" stroke-width="0.3">Subcortical volumes</text>
<text x="338.40" y="501.00" font-size="16.4" textLength="112.26" lengthAdjust="spacingAndGlyphs" fill="#161616" stroke="#161616" stroke-width="0.3">DANCE SKILL</text>
<text x="584.00" y="503.70" font-size="16.4" textLength="97.13" lengthAdjust="spacingAndGlyphs" fill="#161616" stroke="#161616" stroke-width="0.3">COGNITION</text>
<text x="293.20" y="542.00" font-size="15.6" textLength="200.89" lengthAdjust="spacingAndGlyphs" fill="#161616" stroke="#161616" stroke-width="0.3">Dancers: better dance skills?</text>
<text x="546.90" y="538.40" font-size="15.6" textLength="189.86" lengthAdjust="spacingAndGlyphs" fill="#161616" stroke="#161616" stroke-width="0.3">Dancers: cognitive benefit?</text>
<text x="297.20" y="629.60" font-size="15.0" textLength="186.50" lengthAdjust="spacingAndGlyphs" fill="#161616" stroke="#161616" stroke-width="0.3">Dance Central video game</text>
<text x="336.30" y="660.20" font-size="14.6" textLength="95.80" lengthAdjust="spacingAndGlyphs" fill="#161616" stroke="#161616" stroke-width="0.3">Move accuracy</text>
<text x="294.60" y="703.50" font-size="15.0" textLength="94.92" lengthAdjust="spacingAndGlyphs" fill="#161616" stroke="#161616" stroke-width="0.3">Balance Task</text>
<text x="334.80" y="747.20" font-size="14.6" textLength="101.59" lengthAdjust="spacingAndGlyphs" fill="#161616" stroke="#161616" stroke-width="0.3">Time on one leg</text>
<text x="563.50" y="605.00" font-size="15.0" textLength="159.97" lengthAdjust="spacingAndGlyphs" fill="#161616" stroke="#161616" stroke-width="0.3">Broad cognitive battery</text>
<text x="604.40" y="630.20" font-size="14.6" textLength="106.09" lengthAdjust="spacingAndGlyphs" fill="#161616" stroke="#161616" stroke-width="0.3">Fluid intelligence</text>
<text x="604.40" y="648.10" font-size="14.6" textLength="110.28" lengthAdjust="spacingAndGlyphs" fill="#161616" stroke="#161616" stroke-width="0.3">Perceptual speed</text>
<text x="604.40" y="682.50" font-size="14.6" textLength="119.12" lengthAdjust="spacingAndGlyphs" fill="#161616" stroke="#161616" stroke-width="0.3">Relational memory</text>
<text x="604.40" y="699.60" font-size="14.6" textLength="99.53" lengthAdjust="spacingAndGlyphs" fill="#161616" stroke="#161616" stroke-width="0.3">Spatial memory</text>
<text x="604.40" y="716.80" font-size="14.6" textLength="70.63" lengthAdjust="spacingAndGlyphs" fill="#161616" stroke="#161616" stroke-width="0.3">Span tasks</text>
<text x="604.40" y="751.10" font-size="14.6" textLength="86.42" lengthAdjust="spacingAndGlyphs" fill="#161616" stroke="#161616" stroke-width="0.3">Attention/task</text>
<text x="604.40" y="768.20" font-size="14.6" textLength="58.77" lengthAdjust="spacingAndGlyphs" fill="#161616" stroke="#161616" stroke-width="0.3">switching</text>
<circle cx="308.9" cy="339.4" r="2.15" fill="#1a1a1a"/>
<circle cx="308.9" cy="374.9" r="2.15" fill="#1a1a1a"/>
<circle cx="537.5" cy="347.9" r="2.15" fill="#1a1a1a"/>
<circle cx="537.5" cy="365.7" r="2.15" fill="#1a1a1a"/>
<circle cx="537.5" cy="382.3" r="2.15" fill="#1a1a1a"/>
<circle cx="794.6" cy="332.3" r="2.15" fill="#1a1a1a"/>
<circle cx="794.6" cy="350.6" r="2.15" fill="#1a1a1a"/>
<circle cx="317.0" cy="655.4" r="2.15" fill="#1a1a1a"/>
<circle cx="315.4" cy="742.2" r="2.15" fill="#1a1a1a"/>
<circle cx="586.3" cy="625.3" r="2.15" fill="#1a1a1a"/>
<circle cx="586.3" cy="644.2" r="2.15" fill="#1a1a1a"/>
<circle cx="586.3" cy="678.0" r="2.15" fill="#1a1a1a"/>
<circle cx="586.3" cy="694.7" r="2.15" fill="#1a1a1a"/>
<circle cx="586.3" cy="711.9" r="2.15" fill="#1a1a1a"/>
<circle cx="586.3" cy="746.7" r="2.15" fill="#1a1a1a"/>
<polygon points="463.30,271.30 480.50,254.50 480.50,262.70 549.80,262.70 549.80,254.50 567.00,271.30 549.80,288.10 549.80,279.90 480.50,279.90 480.50,288.10" fill="#f7c291" stroke="#2e1f14" stroke-width="1.5" stroke-linejoin="miter"/>
<text x="481.70" y="274.90" font-size="10.2" textLength="68.59" lengthAdjust="spacingAndGlyphs" fill="#2a1a0e" stroke="#2a1a0e" stroke-width="0.2">CORRELATION</text>
<polygon points="463.30,684.10 480.50,667.20 480.50,675.35 550.20,675.35 550.20,667.20 567.40,684.10 550.20,701.00 550.20,692.85 480.50,692.85 480.50,701.00" fill="#f7c291" stroke="#2e1f14" stroke-width="1.5" stroke-linejoin="miter"/>
<text x="481.70" y="687.60" font-size="10.2" textLength="67.99" lengthAdjust="spacingAndGlyphs" fill="#2a1a0e" stroke="#2a1a0e" stroke-width="0.2">CORRELATION</text>
<polygon points="307.00,409.60 324.25,426.10 315.25,426.10 315.25,491.70 324.25,491.70 307.00,508.20 289.75,491.70 298.75,491.70 298.75,426.10 289.75,426.10" fill="#f7c291" stroke="#2e1f14" stroke-width="1.5" stroke-linejoin="miter"/>
<g transform="translate(310.6,454.6) rotate(-90)"><text x="-33.50" y="0.00" font-size="10.2" textLength="66.99" lengthAdjust="spacingAndGlyphs" fill="#2a1a0e" stroke="#2a1a0e" stroke-width="0.2">CORRELATION</text></g>
<polygon points="712.60,408.20 730.00,425.40 721.05,425.40 721.05,489.80 730.00,489.80 712.60,507.00 695.20,489.80 704.15,489.80 704.15,425.40 695.20,425.40" fill="#f7c291" stroke="#2e1f14" stroke-width="1.5" stroke-linejoin="miter"/>
<g transform="translate(716.2,453.2) rotate(-90)"><text x="-33.50" y="0.00" font-size="10.2" textLength="66.99" lengthAdjust="spacingAndGlyphs" fill="#2a1a0e" stroke="#2a1a0e" stroke-width="0.2">CORRELATION</text></g>
<g transform="translate(503.95,456.15) rotate(-47.57)"><polygon points="-66.18,0.00 -48.88,-17.20 -48.88,-8.70 48.88,-8.70 48.88,-17.20 66.18,0.00 48.88,17.20 48.88,8.70 -48.88,8.70 -48.88,17.20" fill="#f7c291" stroke="#2e1f14" stroke-width="1.5" stroke-linejoin="miter"/><text x="-45.40" y="3.40" font-size="10.2" textLength="68.99" lengthAdjust="spacingAndGlyphs" fill="#2a1a0e" stroke="#2a1a0e" stroke-width="0.2">CORRELATION</text></g>
<polygon points="225.1,328.5 276.0,328.5 276.0,316.6 299.8,340.4 276.0,364.4 276.0,352.4 225.1,352.4" fill="#a8a8a8" stroke="#262626" stroke-width="1.5"/>
<text x="236.70" y="344.90" font-size="10.2" textLength="46.71" lengthAdjust="spacingAndGlyphs" fill="#222" stroke="#222" stroke-width="0.2">FC SEEDS</text>
<text x="67.60" y="197.90" font-size="8.2" textLength="26.40" lengthAdjust="spacingAndGlyphs" fill="#2a2a2a" stroke="#2a2a2a" stroke-width="0.45">DANCE</text>
<text x="161.80" y="197.90" font-size="8.2" textLength="36.59" lengthAdjust="spacingAndGlyphs" fill="#2a2a2a" stroke="#2a2a2a" stroke-width="0.45">CONTROL</text>
<text x="110.60" y="249.10" font-size="8.2" textLength="45.71" lengthAdjust="spacingAndGlyphs" fill="#2a2a2a" stroke="#2a2a2a" stroke-width="0.45">FIXATIION +</text>
<text x="238.30" y="253.80" font-size="8.2" textLength="4.69" lengthAdjust="spacingAndGlyphs" fill="#2a2a2a" stroke="#2a2a2a" stroke-width="0.5">+</text>
<text x="184.80" y="276.60" font-size="8.2" textLength="10.99" lengthAdjust="spacingAndGlyphs" fill="#8a8a8a" stroke="#8a8a8a" stroke-width="0.2">5 x</text>
<text x="184.80" y="286.60" font-size="8.2" textLength="55.69" lengthAdjust="spacingAndGlyphs" fill="#8a8a8a" stroke="#8a8a8a" stroke-width="0.2">Random Order</text>
</svg>
</body></html>
